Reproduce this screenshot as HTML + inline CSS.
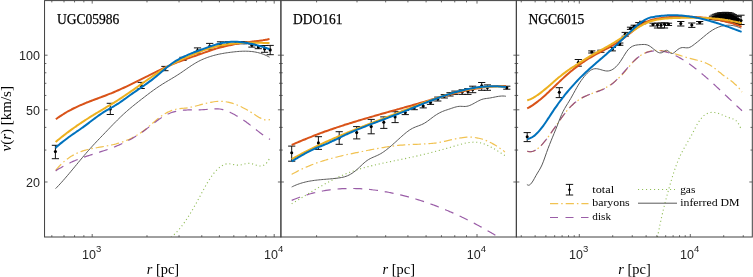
<!DOCTYPE html><html><head><meta charset="utf-8"><style>html,body{margin:0;padding:0;background:#fff;}svg{display:block;will-change:transform;}</style></head><body>
<svg width="753" height="277" viewBox="0 0 753 277">
<rect x="0" y="0" width="753" height="277" fill="#fff"/>
<clipPath id="c0"><rect x="44.55" y="0.60" width="236.35" height="236.40"/></clipPath>
<clipPath id="c1"><rect x="280.90" y="0.60" width="235.45" height="236.40"/></clipPath>
<clipPath id="c2"><rect x="516.35" y="0.60" width="235.95" height="236.40"/></clipPath>
<g clip-path="url(#c0)" fill="none">
<path d="M55.40,145.30V158.70M51.80,145.30H59.00M51.80,158.70H59.00M110.30,103.30V114.50M106.70,103.30H113.90M106.70,114.50H113.90M141.20,82.40V88.50M137.60,82.40H144.80M137.60,88.50H144.80M164.90,66.40V70.70M161.30,66.40H168.50M161.30,70.70H168.50M183.00,57.30V60.40M179.40,57.30H186.60M179.40,60.40H186.60M197.50,47.90V53.20M193.90,47.90H201.10M193.90,53.20H201.10M209.70,43.40V49.20M206.10,43.40H213.30M206.10,49.20H213.30M220.50,41.80V46.70M216.90,41.80H224.10M216.90,46.70H224.10M228.00,41.70V44.50M224.40,41.70H231.60M224.40,44.50H231.60M236.00,41.60V43.80M232.40,41.60H239.60M232.40,43.80H239.60M244.00,41.60V43.80M240.40,41.60H247.60M240.40,43.80H247.60M251.90,44.00V47.10M248.30,44.00H255.50M248.30,47.10H255.50M258.30,45.50V48.70M254.70,45.50H261.90M254.70,48.70H261.90M264.60,45.50V52.30M261.00,45.50H268.20M261.00,52.30H268.20M270.20,45.40V54.70M266.60,45.40H273.80M266.60,54.70H273.80" stroke="#111" stroke-width="1" />
<circle cx="55.40" cy="151.60" r="1.55" fill="#000"/>
<circle cx="110.30" cy="109.00" r="1.55" fill="#000"/>
<circle cx="141.20" cy="85.50" r="1.55" fill="#000"/>
<circle cx="164.90" cy="68.50" r="1.55" fill="#000"/>
<circle cx="183.00" cy="58.90" r="1.55" fill="#000"/>
<circle cx="197.50" cy="50.50" r="1.55" fill="#000"/>
<circle cx="209.70" cy="46.30" r="1.55" fill="#000"/>
<circle cx="220.50" cy="44.20" r="1.55" fill="#000"/>
<circle cx="228.00" cy="43.20" r="1.55" fill="#000"/>
<circle cx="236.00" cy="42.80" r="1.55" fill="#000"/>
<circle cx="244.00" cy="42.60" r="1.55" fill="#000"/>
<circle cx="251.90" cy="45.30" r="1.55" fill="#000"/>
<circle cx="258.30" cy="47.10" r="1.55" fill="#000"/>
<circle cx="264.60" cy="48.90" r="1.55" fill="#000"/>
<circle cx="270.20" cy="49.90" r="1.55" fill="#000"/>
<path d="M55.70,170.29 C56.03,169.90 57.04,168.69 57.70,167.93 C58.37,167.18 59.04,166.45 59.71,165.76 C60.37,165.06 61.04,164.39 61.71,163.75 C62.38,163.11 63.04,162.50 63.71,161.91 C64.38,161.33 65.05,160.77 65.71,160.23 C66.38,159.69 67.05,159.18 67.72,158.69 C68.38,158.20 69.05,157.73 69.72,157.29 C70.39,156.84 71.05,156.42 71.72,156.02 C72.39,155.62 73.06,155.23 73.73,154.87 C74.39,154.51 75.06,154.16 75.73,153.83 C76.40,153.51 77.06,153.20 77.73,152.90 C78.40,152.61 79.07,152.33 79.73,152.07 C80.40,151.81 81.07,151.56 81.74,151.32 C82.40,151.09 83.07,150.86 83.74,150.65 C84.41,150.44 85.07,150.25 85.74,150.06 C86.41,149.87 87.08,149.69 87.74,149.52 C88.41,149.36 89.08,149.20 89.75,149.04 C90.42,148.89 91.08,148.75 91.75,148.61 C92.42,148.47 93.09,148.34 93.75,148.21 C94.42,148.09 95.09,147.97 95.76,147.85 C96.42,147.73 97.09,147.61 97.76,147.50 C98.43,147.39 99.09,147.28 99.76,147.16 C100.43,147.05 101.10,146.94 101.76,146.83 C102.43,146.72 103.10,146.61 103.77,146.50 C104.43,146.38 105.10,146.27 105.77,146.15 C106.44,146.03 107.11,145.91 107.77,145.78 C108.44,145.65 109.11,145.52 109.78,145.38 C110.44,145.24 111.11,145.10 111.78,144.95 C112.45,144.80 113.11,144.65 113.78,144.49 C114.45,144.32 115.12,144.16 115.78,143.98 C116.45,143.80 117.12,143.62 117.79,143.43 C118.45,143.24 119.12,143.04 119.79,142.83 C120.46,142.63 121.12,142.41 121.79,142.19 C122.46,141.96 123.13,141.73 123.80,141.48 C124.46,141.24 125.13,140.98 125.80,140.72 C126.47,140.45 127.13,140.18 127.80,139.89 C128.47,139.60 129.14,139.31 129.80,138.99 C130.47,138.68 131.14,138.36 131.81,138.03 C132.47,137.69 133.14,137.35 133.81,136.99 C134.48,136.62 135.14,136.25 135.81,135.86 C136.48,135.48 137.15,135.07 137.81,134.66 C138.48,134.24 139.15,133.81 139.82,133.36 C140.49,132.92 141.15,132.46 141.82,131.98 C142.49,131.50 143.16,131.01 143.82,130.50 C144.49,129.99 145.16,129.46 145.83,128.93 C146.49,128.39 147.16,127.84 147.83,127.28 C148.50,126.72 149.16,126.16 149.83,125.59 C150.50,125.02 151.17,124.44 151.83,123.87 C152.50,123.30 153.17,122.72 153.84,122.15 C154.50,121.58 155.17,121.02 155.84,120.46 C156.51,119.90 157.18,119.35 157.84,118.81 C158.51,118.28 159.18,117.75 159.85,117.24 C160.51,116.73 161.18,116.24 161.85,115.77 C162.52,115.30 163.18,114.84 163.85,114.41 C164.52,113.99 165.19,113.58 165.85,113.20 C166.52,112.82 167.19,112.46 167.86,112.13 C168.52,111.79 169.19,111.48 169.86,111.20 C170.53,110.91 171.20,110.65 171.86,110.41 C172.53,110.18 173.20,109.96 173.87,109.77 C174.53,109.59 175.20,109.42 175.87,109.28 C176.54,109.14 177.20,109.03 177.87,108.93 C178.54,108.82 179.21,108.75 179.87,108.67 C180.54,108.59 181.21,108.53 181.88,108.47 C182.54,108.40 183.21,108.34 183.88,108.27 C184.55,108.20 185.21,108.13 185.88,108.05 C186.55,107.96 187.22,107.87 187.89,107.76 C188.55,107.65 189.22,107.52 189.89,107.39 C190.56,107.26 191.22,107.12 191.89,106.98 C192.56,106.83 193.23,106.67 193.89,106.51 C194.56,106.35 195.23,106.18 195.90,106.01 C196.56,105.84 197.23,105.66 197.90,105.48 C198.57,105.30 199.23,105.12 199.90,104.94 C200.57,104.76 201.24,104.58 201.90,104.40 C202.57,104.22 203.24,104.04 203.91,103.87 C204.58,103.69 205.24,103.52 205.91,103.36 C206.58,103.19 207.25,103.03 207.91,102.88 C208.58,102.72 209.25,102.58 209.92,102.44 C210.58,102.30 211.25,102.17 211.92,102.06 C212.59,101.94 213.25,101.83 213.92,101.74 C214.59,101.65 215.26,101.56 215.92,101.50 C216.59,101.43 217.26,101.38 217.93,101.34 C218.59,101.31 219.26,101.29 219.93,101.29 C220.60,101.29 221.27,101.31 221.93,101.35 C222.60,101.38 223.27,101.44 223.94,101.51 C224.60,101.58 225.27,101.67 225.94,101.78 C226.61,101.89 227.27,102.01 227.94,102.15 C228.61,102.29 229.28,102.44 229.94,102.62 C230.61,102.79 231.28,102.97 231.95,103.17 C232.61,103.37 233.28,103.59 233.95,103.82 C234.62,104.05 235.28,104.29 235.95,104.55 C236.62,104.80 237.29,105.07 237.96,105.35 C238.62,105.63 239.29,105.93 239.96,106.23 C240.63,106.54 241.29,106.85 241.96,107.18 C242.63,107.51 243.30,107.85 243.96,108.19 C244.63,108.54 245.30,108.90 245.97,109.27 C246.63,109.64 247.30,110.01 247.97,110.40 C248.64,110.78 249.30,111.18 249.97,111.58 C250.64,111.98 251.31,112.39 251.97,112.81 C252.64,113.22 253.31,113.65 253.98,114.08 C254.65,114.51 255.31,114.95 255.98,115.38 C256.65,115.82 257.32,116.26 257.98,116.67 C258.65,117.09 259.32,117.50 259.99,117.86 C260.65,118.23 261.32,118.58 261.99,118.88 C262.66,119.17 263.32,119.44 263.99,119.63 C264.66,119.82 265.33,119.97 265.99,120.04 C266.66,120.11 267.33,120.11 268.00,120.03 C268.66,119.94 269.67,119.59 270.00,119.51" stroke="#EDB120" stroke-width="1.2" stroke-dasharray="8.2 3 1.5 3" stroke-opacity="0.78" />
<path d="M55.70,170.90 C56.03,170.68 57.04,170.01 57.70,169.59 C58.37,169.16 59.04,168.74 59.71,168.34 C60.37,167.93 61.04,167.54 61.71,167.15 C62.38,166.76 63.04,166.39 63.71,166.02 C64.38,165.65 65.05,165.29 65.71,164.94 C66.38,164.59 67.05,164.25 67.72,163.92 C68.38,163.59 69.05,163.26 69.72,162.94 C70.39,162.63 71.05,162.32 71.72,162.02 C72.39,161.71 73.06,161.42 73.73,161.13 C74.39,160.84 75.06,160.56 75.73,160.29 C76.40,160.01 77.06,159.75 77.73,159.48 C78.40,159.22 79.07,158.96 79.73,158.71 C80.40,158.46 81.07,158.21 81.74,157.97 C82.40,157.73 83.07,157.49 83.74,157.26 C84.41,157.03 85.07,156.80 85.74,156.57 C86.41,156.35 87.08,156.12 87.74,155.90 C88.41,155.68 89.08,155.47 89.75,155.25 C90.42,155.03 91.08,154.82 91.75,154.61 C92.42,154.39 93.09,154.18 93.75,153.97 C94.42,153.76 95.09,153.55 95.76,153.34 C96.42,153.13 97.09,152.92 97.76,152.71 C98.43,152.50 99.09,152.29 99.76,152.07 C100.43,151.86 101.10,151.64 101.76,151.43 C102.43,151.21 103.10,150.99 103.77,150.77 C104.43,150.55 105.10,150.32 105.77,150.10 C106.44,149.87 107.11,149.64 107.77,149.40 C108.44,149.17 109.11,148.93 109.78,148.68 C110.44,148.44 111.11,148.19 111.78,147.94 C112.45,147.69 113.11,147.43 113.78,147.17 C114.45,146.91 115.12,146.64 115.78,146.37 C116.45,146.10 117.12,145.82 117.79,145.54 C118.45,145.25 119.12,144.97 119.79,144.67 C120.46,144.38 121.12,144.08 121.79,143.77 C122.46,143.46 123.13,143.15 123.80,142.83 C124.46,142.51 125.13,142.19 125.80,141.85 C126.47,141.52 127.13,141.18 127.80,140.83 C128.47,140.48 129.14,140.13 129.80,139.77 C130.47,139.40 131.14,139.03 131.81,138.66 C132.47,138.28 133.14,137.89 133.81,137.50 C134.48,137.10 135.14,136.70 135.81,136.29 C136.48,135.88 137.15,135.46 137.81,135.03 C138.48,134.60 139.15,134.16 139.82,133.71 C140.49,133.26 141.15,132.81 141.82,132.34 C142.49,131.87 143.16,131.39 143.82,130.91 C144.49,130.42 145.16,129.92 145.83,129.42 C146.49,128.92 147.16,128.41 147.83,127.89 C148.50,127.38 149.16,126.86 149.83,126.34 C150.50,125.82 151.17,125.30 151.83,124.78 C152.50,124.27 153.17,123.75 153.84,123.23 C154.50,122.72 155.17,122.21 155.84,121.71 C156.51,121.21 157.18,120.71 157.84,120.23 C158.51,119.75 159.18,119.27 159.85,118.81 C160.51,118.35 161.18,117.90 161.85,117.47 C162.52,117.04 163.18,116.62 163.85,116.23 C164.52,115.83 165.19,115.45 165.85,115.09 C166.52,114.73 167.19,114.40 167.86,114.08 C168.52,113.77 169.19,113.48 169.86,113.22 C170.53,112.95 171.20,112.70 171.86,112.48 C172.53,112.25 173.20,112.05 173.87,111.86 C174.53,111.67 175.20,111.50 175.87,111.35 C176.54,111.20 177.20,111.06 177.87,110.94 C178.54,110.81 179.21,110.71 179.87,110.61 C180.54,110.52 181.21,110.44 181.88,110.36 C182.54,110.29 183.21,110.23 183.88,110.18 C184.55,110.13 185.21,110.09 185.88,110.06 C186.55,110.02 187.22,110.00 187.89,109.97 C188.55,109.95 189.22,109.94 189.89,109.93 C190.56,109.92 191.22,109.91 191.89,109.90 C192.56,109.90 193.23,109.90 193.89,109.89 C194.56,109.89 195.23,109.89 195.90,109.88 C196.56,109.88 197.23,109.87 197.90,109.86 C198.57,109.86 199.23,109.85 199.90,109.83 C200.57,109.81 201.24,109.79 201.90,109.76 C202.57,109.73 203.24,109.70 203.91,109.65 C204.58,109.61 205.24,109.56 205.91,109.50 C206.58,109.44 207.25,109.38 207.91,109.31 C208.58,109.25 209.25,109.18 209.92,109.13 C210.58,109.07 211.25,109.01 211.92,108.96 C212.59,108.91 213.25,108.87 213.92,108.84 C214.59,108.81 215.26,108.79 215.92,108.79 C216.59,108.79 217.26,108.81 217.93,108.85 C218.59,108.88 219.26,108.94 219.93,109.03 C220.60,109.11 221.27,109.22 221.93,109.36 C222.60,109.50 223.27,109.67 223.94,109.86 C224.60,110.06 225.27,110.28 225.94,110.53 C226.61,110.77 227.27,111.04 227.94,111.33 C228.61,111.61 229.28,111.92 229.94,112.24 C230.61,112.55 231.28,112.89 231.95,113.23 C232.61,113.57 233.28,113.93 233.95,114.29 C234.62,114.65 235.28,115.02 235.95,115.40 C236.62,115.77 237.29,116.16 237.96,116.56 C238.62,116.95 239.29,117.36 239.96,117.78 C240.63,118.20 241.29,118.62 241.96,119.06 C242.63,119.50 243.30,119.96 243.96,120.42 C244.63,120.89 245.30,121.36 245.97,121.85 C246.63,122.34 247.30,122.83 247.97,123.34 C248.64,123.84 249.30,124.35 249.97,124.87 C250.64,125.38 251.31,125.91 251.97,126.43 C252.64,126.95 253.31,127.48 253.98,128.01 C254.65,128.53 255.31,129.06 255.98,129.58 C256.65,130.10 257.32,130.63 257.98,131.14 C258.65,131.66 259.32,132.17 259.99,132.68 C260.65,133.18 261.32,133.68 261.99,134.16 C262.66,134.65 263.32,135.13 263.99,135.60 C264.66,136.06 265.33,136.52 265.99,136.95 C266.66,137.39 267.33,137.82 268.00,138.23 C268.66,138.63 269.67,139.20 270.00,139.40" stroke="#7E2F8E" stroke-width="1.2" stroke-dasharray="9 6.8" stroke-opacity="0.78" />
<path d="M171.00,237.20 C171.34,236.93 172.34,236.17 173.01,235.60 C173.68,235.03 174.35,234.41 175.02,233.77 C175.69,233.12 176.36,232.43 177.03,231.71 C177.70,230.99 178.37,230.23 179.04,229.45 C179.71,228.66 180.38,227.84 181.05,226.98 C181.72,226.13 182.39,225.24 183.06,224.33 C183.73,223.42 184.40,222.48 185.07,221.51 C185.74,220.54 186.41,219.54 187.08,218.52 C187.75,217.50 188.42,216.45 189.09,215.38 C189.76,214.31 190.43,213.21 191.10,212.10 C191.77,210.99 192.44,209.85 193.11,208.69 C193.78,207.54 194.45,206.36 195.12,205.17 C195.79,203.98 196.46,202.77 197.13,201.55 C197.80,200.32 198.47,199.08 199.14,197.83 C199.81,196.59 200.48,195.32 201.15,194.07 C201.82,192.82 202.49,191.56 203.16,190.32 C203.83,189.08 204.50,187.85 205.17,186.66 C205.84,185.46 206.51,184.28 207.18,183.14 C207.85,182.01 208.52,180.90 209.19,179.84 C209.86,178.79 210.53,177.77 211.20,176.81 C211.87,175.84 212.54,174.92 213.21,174.05 C213.88,173.18 214.55,172.36 215.22,171.59 C215.89,170.82 216.56,170.10 217.23,169.44 C217.90,168.77 218.57,168.16 219.24,167.61 C219.91,167.05 220.59,166.55 221.26,166.11 C221.93,165.67 222.60,165.29 223.27,164.97 C223.94,164.66 224.61,164.40 225.28,164.20 C225.95,164.01 226.62,163.88 227.29,163.81 C227.96,163.75 228.63,163.76 229.30,163.80 C229.97,163.85 230.64,163.96 231.31,164.07 C231.98,164.18 232.65,164.34 233.32,164.47 C233.99,164.61 234.66,164.77 235.33,164.88 C236.00,164.99 236.67,165.10 237.34,165.14 C238.01,165.19 238.68,165.19 239.35,165.13 C240.02,165.08 240.69,164.95 241.36,164.81 C242.03,164.67 242.70,164.48 243.37,164.31 C244.04,164.14 244.71,163.94 245.38,163.79 C246.05,163.65 246.72,163.49 247.39,163.42 C248.06,163.34 248.73,163.30 249.40,163.34 C250.07,163.38 250.74,163.51 251.41,163.66 C252.08,163.81 252.75,164.04 253.42,164.25 C254.09,164.46 254.76,164.72 255.43,164.94 C256.10,165.16 256.77,165.40 257.44,165.57 C258.11,165.74 258.78,165.90 259.45,165.96 C260.12,166.02 260.79,166.05 261.46,165.95 C262.13,165.85 262.80,165.68 263.47,165.37 C264.14,165.05 264.81,164.64 265.48,164.04 C266.15,163.45 266.82,162.73 267.49,161.81 C268.16,160.89 269.16,159.05 269.50,158.50" stroke="#77AC30" stroke-width="1.1" stroke-dasharray="1.1 2.75" stroke-opacity="0.8" />
<path d="M55.60,188.60 C55.85,188.35 56.60,187.59 57.11,187.07 C57.61,186.55 58.11,186.02 58.61,185.49 C59.11,184.95 59.62,184.41 60.12,183.87 C60.62,183.32 61.12,182.77 61.63,182.22 C62.13,181.66 62.63,181.10 63.13,180.53 C63.63,179.96 64.14,179.39 64.64,178.81 C65.14,178.24 65.64,177.66 66.14,177.07 C66.65,176.49 67.15,175.90 67.65,175.31 C68.15,174.72 68.65,174.13 69.16,173.53 C69.66,172.93 70.16,172.33 70.66,171.73 C71.17,171.13 71.67,170.53 72.17,169.92 C72.67,169.32 73.17,168.71 73.68,168.10 C74.18,167.50 74.68,166.89 75.18,166.28 C75.68,165.67 76.19,165.06 76.69,164.45 C77.19,163.85 77.69,163.24 78.20,162.63 C78.70,162.02 79.20,161.42 79.70,160.81 C80.20,160.20 80.71,159.60 81.21,159.00 C81.71,158.40 82.21,157.79 82.71,157.20 C83.22,156.60 83.72,156.00 84.22,155.41 C84.72,154.82 85.22,154.23 85.73,153.64 C86.23,153.05 86.73,152.47 87.23,151.89 C87.74,151.31 88.24,150.74 88.74,150.17 C89.24,149.60 89.74,149.03 90.25,148.47 C90.75,147.91 91.25,147.36 91.75,146.81 C92.25,146.26 92.76,145.71 93.26,145.17 C93.76,144.62 94.26,144.08 94.76,143.55 C95.27,143.01 95.77,142.48 96.27,141.95 C96.77,141.41 97.28,140.89 97.78,140.36 C98.28,139.83 98.78,139.31 99.28,138.78 C99.79,138.26 100.29,137.73 100.79,137.21 C101.29,136.69 101.79,136.17 102.30,135.64 C102.80,135.12 103.30,134.60 103.80,134.08 C104.30,133.55 104.81,133.03 105.31,132.50 C105.81,131.98 106.31,131.45 106.82,130.93 C107.32,130.41 107.82,129.88 108.32,129.36 C108.82,128.83 109.33,128.31 109.83,127.79 C110.33,127.27 110.83,126.74 111.33,126.23 C111.84,125.71 112.34,125.19 112.84,124.67 C113.34,124.16 113.85,123.64 114.35,123.13 C114.85,122.62 115.35,122.11 115.85,121.61 C116.36,121.10 116.86,120.60 117.36,120.10 C117.86,119.60 118.36,119.10 118.87,118.61 C119.37,118.12 119.87,117.63 120.37,117.15 C120.87,116.67 121.38,116.19 121.88,115.71 C122.38,115.24 122.88,114.77 123.39,114.31 C123.89,113.84 124.39,113.38 124.89,112.93 C125.39,112.48 125.90,112.03 126.40,111.59 C126.90,111.14 127.40,110.70 127.90,110.27 C128.41,109.83 128.91,109.40 129.41,108.98 C129.91,108.55 130.41,108.13 130.92,107.71 C131.42,107.29 131.92,106.88 132.42,106.46 C132.93,106.05 133.43,105.64 133.93,105.24 C134.43,104.83 134.93,104.43 135.44,104.02 C135.94,103.62 136.44,103.22 136.94,102.83 C137.44,102.43 137.95,102.03 138.45,101.64 C138.95,101.24 139.45,100.85 139.95,100.46 C140.46,100.07 140.96,99.68 141.46,99.29 C141.96,98.90 142.47,98.51 142.97,98.12 C143.47,97.73 143.97,97.34 144.47,96.96 C144.98,96.57 145.48,96.18 145.98,95.80 C146.48,95.41 146.98,95.03 147.49,94.65 C147.99,94.27 148.49,93.89 148.99,93.51 C149.50,93.13 150.00,92.76 150.50,92.39 C151.00,92.01 151.50,91.64 152.01,91.28 C152.51,90.91 153.01,90.54 153.51,90.18 C154.01,89.82 154.52,89.46 155.02,89.11 C155.52,88.75 156.02,88.40 156.52,88.06 C157.03,87.71 157.53,87.37 158.03,87.03 C158.53,86.69 159.04,86.35 159.54,86.02 C160.04,85.69 160.54,85.37 161.04,85.05 C161.55,84.73 162.05,84.41 162.55,84.09 C163.05,83.78 163.55,83.47 164.06,83.16 C164.56,82.85 165.06,82.55 165.56,82.25 C166.06,81.94 166.57,81.64 167.07,81.34 C167.57,81.04 168.07,80.74 168.58,80.44 C169.08,80.14 169.58,79.85 170.08,79.55 C170.58,79.25 171.09,78.95 171.59,78.65 C172.09,78.35 172.59,78.05 173.09,77.75 C173.60,77.45 174.10,77.14 174.60,76.83 C175.10,76.53 175.60,76.22 176.11,75.91 C176.61,75.59 177.11,75.28 177.61,74.96 C178.12,74.64 178.62,74.32 179.12,73.99 C179.62,73.66 180.12,73.33 180.63,72.99 C181.13,72.65 181.63,72.31 182.13,71.97 C182.63,71.62 183.14,71.27 183.64,70.93 C184.14,70.58 184.64,70.23 185.15,69.88 C185.65,69.53 186.15,69.18 186.65,68.83 C187.15,68.48 187.66,68.13 188.16,67.78 C188.66,67.44 189.16,67.10 189.66,66.76 C190.17,66.42 190.67,66.08 191.17,65.75 C191.67,65.42 192.17,65.09 192.68,64.77 C193.18,64.45 193.68,64.14 194.18,63.83 C194.69,63.52 195.19,63.22 195.69,62.93 C196.19,62.63 196.69,62.35 197.20,62.07 C197.70,61.80 198.20,61.53 198.70,61.27 C199.20,61.01 199.71,60.75 200.21,60.51 C200.71,60.26 201.21,60.02 201.71,59.79 C202.22,59.56 202.72,59.34 203.22,59.12 C203.72,58.90 204.23,58.69 204.73,58.49 C205.23,58.29 205.73,58.09 206.23,57.90 C206.74,57.71 207.24,57.52 207.74,57.34 C208.24,57.16 208.74,56.99 209.25,56.82 C209.75,56.65 210.25,56.49 210.75,56.33 C211.25,56.18 211.76,56.02 212.26,55.88 C212.76,55.73 213.26,55.59 213.77,55.45 C214.27,55.32 214.77,55.18 215.27,55.06 C215.77,54.93 216.28,54.81 216.78,54.69 C217.28,54.57 217.78,54.45 218.28,54.34 C218.79,54.23 219.29,54.13 219.79,54.02 C220.29,53.92 220.80,53.82 221.30,53.73 C221.80,53.63 222.30,53.54 222.80,53.45 C223.31,53.36 223.81,53.28 224.31,53.19 C224.81,53.11 225.31,53.03 225.82,52.95 C226.32,52.87 226.82,52.80 227.32,52.73 C227.82,52.65 228.33,52.58 228.83,52.52 C229.33,52.45 229.83,52.38 230.34,52.32 C230.84,52.25 231.34,52.19 231.84,52.13 C232.34,52.07 232.85,52.01 233.35,51.95 C233.85,51.90 234.35,51.84 234.85,51.79 C235.36,51.74 235.86,51.69 236.36,51.64 C236.86,51.59 237.36,51.55 237.87,51.50 C238.37,51.46 238.87,51.42 239.37,51.39 C239.88,51.36 240.38,51.33 240.88,51.30 C241.38,51.27 241.88,51.25 242.39,51.23 C242.89,51.21 243.39,51.20 243.89,51.19 C244.39,51.18 244.90,51.18 245.40,51.18 C245.90,51.19 246.40,51.19 246.90,51.21 C247.41,51.22 247.91,51.24 248.41,51.26 C248.91,51.29 249.42,51.32 249.92,51.36 C250.42,51.40 250.92,51.44 251.42,51.50 C251.93,51.55 252.43,51.61 252.93,51.67 C253.43,51.74 253.93,51.82 254.44,51.90 C254.94,51.98 255.44,52.07 255.94,52.17 C256.45,52.27 256.95,52.38 257.45,52.49 C257.95,52.61 258.45,52.73 258.96,52.87 C259.46,53.00 259.96,53.15 260.46,53.30 C260.96,53.45 261.47,53.61 261.97,53.79 C262.47,53.96 262.97,54.14 263.47,54.34 C263.98,54.53 264.48,54.74 264.98,54.95 C265.48,55.17 265.99,55.39 266.49,55.63 C266.99,55.87 267.49,56.12 267.99,56.38 C268.50,56.64 269.25,57.06 269.50,57.20" stroke="#595959" stroke-width="1" />
<path d="M55.80,119.19 C56.14,118.95 57.14,118.22 57.82,117.74 C58.49,117.27 59.16,116.81 59.83,116.36 C60.50,115.91 61.18,115.47 61.85,115.04 C62.52,114.61 63.19,114.19 63.86,113.78 C64.54,113.37 65.21,112.97 65.88,112.58 C66.55,112.18 67.22,111.80 67.90,111.42 C68.57,111.05 69.24,110.68 69.91,110.32 C70.58,109.96 71.26,109.61 71.93,109.26 C72.60,108.92 73.27,108.58 73.94,108.25 C74.62,107.92 75.29,107.60 75.96,107.28 C76.63,106.96 77.30,106.65 77.98,106.34 C78.65,106.03 79.32,105.73 79.99,105.43 C80.66,105.14 81.34,104.85 82.01,104.56 C82.68,104.27 83.35,103.99 84.02,103.71 C84.70,103.43 85.37,103.16 86.04,102.89 C86.71,102.61 87.38,102.35 88.06,102.08 C88.73,101.81 89.40,101.55 90.07,101.29 C90.74,101.03 91.42,100.77 92.09,100.52 C92.76,100.26 93.43,100.01 94.10,99.75 C94.78,99.50 95.45,99.25 96.12,99.00 C96.79,98.74 97.46,98.49 98.14,98.24 C98.81,97.99 99.48,97.74 100.15,97.49 C100.82,97.24 101.50,96.99 102.17,96.73 C102.84,96.48 103.51,96.23 104.18,95.97 C104.86,95.72 105.53,95.46 106.20,95.20 C106.87,94.94 107.54,94.68 108.22,94.42 C108.89,94.16 109.56,93.89 110.23,93.62 C110.91,93.35 111.58,93.08 112.25,92.80 C112.92,92.53 113.59,92.25 114.27,91.96 C114.94,91.68 115.61,91.39 116.28,91.10 C116.95,90.81 117.63,90.52 118.30,90.22 C118.97,89.93 119.64,89.63 120.31,89.33 C120.99,89.03 121.66,88.72 122.33,88.41 C123.00,88.11 123.67,87.80 124.35,87.48 C125.02,87.17 125.69,86.86 126.36,86.54 C127.03,86.22 127.71,85.90 128.38,85.58 C129.05,85.26 129.72,84.94 130.39,84.62 C131.07,84.29 131.74,83.97 132.41,83.64 C133.08,83.31 133.75,82.98 134.43,82.65 C135.10,82.32 135.77,81.99 136.44,81.66 C137.11,81.33 137.79,80.99 138.46,80.66 C139.13,80.33 139.80,79.99 140.47,79.66 C141.15,79.32 141.82,78.99 142.49,78.65 C143.16,78.31 143.83,77.98 144.51,77.64 C145.18,77.31 145.85,76.97 146.52,76.63 C147.19,76.30 147.87,75.96 148.54,75.62 C149.21,75.29 149.88,74.95 150.55,74.62 C151.23,74.28 151.90,73.95 152.57,73.62 C153.24,73.28 153.91,72.95 154.59,72.62 C155.26,72.29 155.93,71.96 156.60,71.63 C157.27,71.30 157.95,70.97 158.62,70.65 C159.29,70.32 159.96,70.00 160.63,69.68 C161.31,69.35 161.98,69.03 162.65,68.72 C163.32,68.40 163.99,68.09 164.67,67.77 C165.34,67.46 166.01,67.15 166.68,66.85 C167.35,66.54 168.03,66.24 168.70,65.94 C169.37,65.64 170.04,65.34 170.71,65.05 C171.39,64.76 172.06,64.47 172.73,64.18 C173.40,63.90 174.07,63.61 174.75,63.34 C175.42,63.06 176.09,62.79 176.76,62.52 C177.43,62.25 178.11,61.99 178.78,61.73 C179.45,61.47 180.12,61.21 180.79,60.96 C181.47,60.71 182.14,60.46 182.81,60.21 C183.48,59.96 184.15,59.72 184.83,59.48 C185.50,59.24 186.17,59.00 186.84,58.76 C187.51,58.53 188.19,58.29 188.86,58.06 C189.53,57.82 190.20,57.59 190.87,57.36 C191.55,57.13 192.22,56.89 192.89,56.66 C193.56,56.43 194.23,56.20 194.91,55.97 C195.58,55.73 196.25,55.50 196.92,55.27 C197.59,55.03 198.27,54.80 198.94,54.56 C199.61,54.33 200.28,54.09 200.95,53.85 C201.63,53.62 202.30,53.38 202.97,53.14 C203.64,52.90 204.31,52.66 204.99,52.42 C205.66,52.19 206.33,51.95 207.00,51.71 C207.67,51.48 208.35,51.24 209.02,51.01 C209.69,50.78 210.36,50.55 211.03,50.33 C211.71,50.10 212.38,49.88 213.05,49.66 C213.72,49.44 214.39,49.23 215.07,49.02 C215.74,48.81 216.41,48.61 217.08,48.41 C217.76,48.21 218.43,48.02 219.10,47.83 C219.77,47.64 220.44,47.46 221.12,47.28 C221.79,47.10 222.46,46.92 223.13,46.75 C223.80,46.58 224.48,46.41 225.15,46.25 C225.82,46.09 226.49,45.93 227.16,45.77 C227.84,45.62 228.51,45.47 229.18,45.32 C229.85,45.18 230.52,45.03 231.20,44.90 C231.87,44.76 232.54,44.62 233.21,44.49 C233.88,44.36 234.56,44.23 235.23,44.11 C235.90,43.98 236.57,43.86 237.24,43.74 C237.92,43.63 238.59,43.51 239.26,43.40 C239.93,43.29 240.60,43.18 241.28,43.08 C241.95,42.97 242.62,42.87 243.29,42.77 C243.96,42.68 244.64,42.58 245.31,42.49 C245.98,42.39 246.65,42.30 247.32,42.22 C248.00,42.13 248.67,42.04 249.34,41.96 C250.01,41.88 250.68,41.80 251.36,41.71 C252.03,41.63 252.70,41.55 253.37,41.47 C254.04,41.39 254.72,41.31 255.39,41.23 C256.06,41.15 256.73,41.07 257.40,40.98 C258.08,40.90 258.75,40.81 259.42,40.72 C260.09,40.63 260.76,40.54 261.44,40.44 C262.11,40.34 262.78,40.24 263.45,40.13 C264.12,40.02 264.80,39.91 265.47,39.79 C266.14,39.68 266.81,39.55 267.48,39.42 C268.16,39.29 269.16,39.08 269.50,39.01" stroke="#D95319" stroke-width="2" stroke-linejoin="round" />
<path d="M55.60,142.00 C55.94,141.72 56.95,140.87 57.62,140.32 C58.29,139.76 58.96,139.21 59.64,138.67 C60.31,138.13 60.98,137.59 61.65,137.06 C62.33,136.52 63.00,136.00 63.67,135.47 C64.34,134.95 65.02,134.43 65.69,133.92 C66.36,133.40 67.03,132.90 67.71,132.39 C68.38,131.89 69.05,131.39 69.73,130.89 C70.40,130.40 71.07,129.91 71.74,129.42 C72.42,128.94 73.09,128.46 73.76,127.98 C74.43,127.50 75.11,127.03 75.78,126.56 C76.45,126.09 77.12,125.62 77.80,125.16 C78.47,124.70 79.14,124.24 79.82,123.78 C80.49,123.33 81.16,122.88 81.83,122.43 C82.51,121.98 83.18,121.54 83.85,121.10 C84.52,120.66 85.20,120.22 85.87,119.78 C86.54,119.35 87.21,118.92 87.89,118.49 C88.56,118.06 89.23,117.63 89.90,117.21 C90.58,116.79 91.25,116.37 91.92,115.95 C92.60,115.53 93.27,115.12 93.94,114.70 C94.61,114.29 95.29,113.88 95.96,113.47 C96.63,113.06 97.30,112.66 97.98,112.25 C98.65,111.85 99.32,111.44 99.99,111.04 C100.67,110.64 101.34,110.24 102.01,109.84 C102.68,109.44 103.36,109.04 104.03,108.64 C104.70,108.24 105.38,107.84 106.05,107.44 C106.72,107.03 107.39,106.63 108.07,106.23 C108.74,105.83 109.41,105.42 110.08,105.02 C110.76,104.61 111.43,104.20 112.10,103.79 C112.77,103.38 113.45,102.97 114.12,102.55 C114.79,102.13 115.47,101.71 116.14,101.29 C116.81,100.87 117.48,100.44 118.16,100.01 C118.83,99.58 119.50,99.14 120.17,98.71 C120.85,98.27 121.52,97.82 122.19,97.38 C122.86,96.93 123.54,96.49 124.21,96.03 C124.88,95.58 125.55,95.13 126.23,94.67 C126.90,94.21 127.57,93.75 128.25,93.29 C128.92,92.83 129.59,92.36 130.26,91.90 C130.94,91.43 131.61,90.97 132.28,90.50 C132.95,90.03 133.63,89.56 134.30,89.08 C134.97,88.61 135.64,88.14 136.32,87.67 C136.99,87.19 137.66,86.72 138.33,86.24 C139.01,85.77 139.68,85.29 140.35,84.82 C141.03,84.34 141.70,83.87 142.37,83.39 C143.04,82.92 143.72,82.44 144.39,81.97 C145.06,81.49 145.73,81.02 146.41,80.55 C147.08,80.07 147.75,79.60 148.42,79.13 C149.10,78.66 149.77,78.19 150.44,77.73 C151.12,77.26 151.79,76.79 152.46,76.33 C153.13,75.87 153.81,75.41 154.48,74.95 C155.15,74.49 155.82,74.04 156.50,73.59 C157.17,73.14 157.84,72.69 158.51,72.24 C159.19,71.80 159.86,71.36 160.53,70.93 C161.20,70.49 161.88,70.06 162.55,69.64 C163.22,69.22 163.90,68.80 164.57,68.39 C165.24,67.98 165.91,67.57 166.59,67.17 C167.26,66.77 167.93,66.38 168.60,66.00 C169.28,65.61 169.95,65.24 170.62,64.87 C171.29,64.50 171.97,64.14 172.64,63.78 C173.31,63.43 173.98,63.08 174.66,62.74 C175.33,62.40 176.00,62.07 176.68,61.74 C177.35,61.41 178.02,61.09 178.69,60.77 C179.37,60.45 180.04,60.14 180.71,59.83 C181.38,59.52 182.06,59.22 182.73,58.92 C183.40,58.62 184.07,58.32 184.75,58.03 C185.42,57.74 186.09,57.45 186.77,57.16 C187.44,56.88 188.11,56.59 188.78,56.31 C189.46,56.03 190.13,55.75 190.80,55.47 C191.47,55.20 192.15,54.92 192.82,54.65 C193.49,54.37 194.16,54.10 194.84,53.82 C195.51,53.55 196.18,53.28 196.85,53.01 C197.53,52.74 198.20,52.47 198.87,52.20 C199.55,51.94 200.22,51.67 200.89,51.41 C201.56,51.15 202.24,50.89 202.91,50.64 C203.58,50.39 204.25,50.14 204.93,49.90 C205.60,49.66 206.27,49.42 206.94,49.19 C207.62,48.96 208.29,48.73 208.96,48.51 C209.63,48.30 210.31,48.08 210.98,47.88 C211.65,47.68 212.33,47.48 213.00,47.30 C213.67,47.11 214.34,46.93 215.02,46.75 C215.69,46.58 216.36,46.41 217.03,46.25 C217.71,46.09 218.38,45.94 219.05,45.80 C219.72,45.65 220.40,45.51 221.07,45.38 C221.74,45.24 222.42,45.11 223.09,44.99 C223.76,44.87 224.43,44.76 225.11,44.65 C225.78,44.54 226.45,44.43 227.12,44.33 C227.80,44.24 228.47,44.14 229.14,44.06 C229.81,43.97 230.49,43.89 231.16,43.81 C231.83,43.73 232.50,43.66 233.18,43.59 C233.85,43.52 234.52,43.46 235.20,43.40 C235.87,43.35 236.54,43.29 237.21,43.24 C237.89,43.19 238.56,43.15 239.23,43.11 C239.90,43.07 240.58,43.03 241.25,42.99 C241.92,42.96 242.59,42.93 243.27,42.91 C243.94,42.88 244.61,42.86 245.28,42.84 C245.96,42.82 246.63,42.80 247.30,42.79 C247.98,42.78 248.65,42.77 249.32,42.76 C249.99,42.75 250.67,42.75 251.34,42.74 C252.01,42.74 252.68,42.74 253.36,42.75 C254.03,42.75 254.70,42.75 255.37,42.76 C256.05,42.77 256.72,42.78 257.39,42.79 C258.07,42.80 258.74,42.81 259.41,42.82 C260.08,42.84 260.76,42.85 261.43,42.87 C262.10,42.89 262.77,42.90 263.45,42.92 C264.12,42.94 264.79,42.96 265.46,42.98 C266.14,43.00 266.81,43.02 267.48,43.05 C268.15,43.07 269.16,43.10 269.50,43.11" stroke="#EDB120" stroke-width="2" stroke-linejoin="round" />
<path d="M55.60,147.90 C55.94,147.59 56.95,146.65 57.62,146.05 C58.29,145.45 58.96,144.87 59.64,144.29 C60.31,143.72 60.98,143.16 61.65,142.61 C62.33,142.07 63.00,141.53 63.67,141.00 C64.34,140.48 65.02,139.96 65.69,139.45 C66.36,138.94 67.03,138.44 67.71,137.95 C68.38,137.46 69.05,136.97 69.73,136.49 C70.40,136.01 71.07,135.53 71.74,135.06 C72.42,134.59 73.09,134.12 73.76,133.65 C74.43,133.18 75.11,132.72 75.78,132.25 C76.45,131.79 77.12,131.32 77.80,130.86 C78.47,130.39 79.14,129.93 79.82,129.46 C80.49,128.99 81.16,128.51 81.83,128.04 C82.51,127.56 83.18,127.08 83.85,126.59 C84.52,126.10 85.20,125.61 85.87,125.11 C86.54,124.61 87.21,124.11 87.89,123.60 C88.56,123.09 89.23,122.58 89.90,122.07 C90.58,121.56 91.25,121.05 91.92,120.54 C92.60,120.03 93.27,119.52 93.94,119.01 C94.61,118.51 95.29,118.00 95.96,117.51 C96.63,117.01 97.30,116.52 97.98,116.04 C98.65,115.55 99.32,115.08 99.99,114.61 C100.67,114.15 101.34,113.69 102.01,113.24 C102.68,112.80 103.36,112.37 104.03,111.95 C104.70,111.53 105.38,111.12 106.05,110.72 C106.72,110.32 107.39,109.93 108.07,109.54 C108.74,109.15 109.41,108.77 110.08,108.39 C110.76,108.01 111.43,107.63 112.10,107.24 C112.77,106.85 113.45,106.47 114.12,106.07 C114.79,105.67 115.47,105.27 116.14,104.86 C116.81,104.45 117.48,104.02 118.16,103.59 C118.83,103.15 119.50,102.70 120.17,102.24 C120.85,101.78 121.52,101.31 122.19,100.84 C122.86,100.37 123.54,99.88 124.21,99.40 C124.88,98.92 125.55,98.43 126.23,97.94 C126.90,97.45 127.57,96.96 128.25,96.47 C128.92,95.99 129.59,95.50 130.26,95.02 C130.94,94.54 131.61,94.07 132.28,93.60 C132.95,93.13 133.63,92.67 134.30,92.20 C134.97,91.74 135.64,91.28 136.32,90.82 C136.99,90.36 137.66,89.90 138.33,89.44 C139.01,88.98 139.68,88.53 140.35,88.07 C141.03,87.61 141.70,87.15 142.37,86.68 C143.04,86.22 143.72,85.75 144.39,85.28 C145.06,84.81 145.73,84.34 146.41,83.86 C147.08,83.38 147.75,82.90 148.42,82.41 C149.10,81.92 149.77,81.42 150.44,80.91 C151.12,80.41 151.79,79.89 152.46,79.37 C153.13,78.85 153.81,78.32 154.48,77.78 C155.15,77.23 155.82,76.68 156.50,76.12 C157.17,75.56 157.84,74.98 158.51,74.41 C159.19,73.84 159.86,73.25 160.53,72.68 C161.20,72.10 161.88,71.51 162.55,70.94 C163.22,70.36 163.90,69.79 164.57,69.22 C165.24,68.66 165.91,68.10 166.59,67.55 C167.26,67.01 167.93,66.47 168.60,65.95 C169.28,65.43 169.95,64.92 170.62,64.44 C171.29,63.95 171.97,63.48 172.64,63.02 C173.31,62.57 173.98,62.13 174.66,61.70 C175.33,61.28 176.00,60.86 176.68,60.46 C177.35,60.07 178.02,59.68 178.69,59.31 C179.37,58.93 180.04,58.57 180.71,58.22 C181.38,57.87 182.06,57.53 182.73,57.19 C183.40,56.86 184.07,56.54 184.75,56.23 C185.42,55.92 186.09,55.61 186.77,55.32 C187.44,55.02 188.11,54.73 188.78,54.45 C189.46,54.16 190.13,53.89 190.80,53.62 C191.47,53.35 192.15,53.08 192.82,52.82 C193.49,52.56 194.16,52.30 194.84,52.05 C195.51,51.79 196.18,51.54 196.85,51.29 C197.53,51.04 198.20,50.79 198.87,50.55 C199.55,50.30 200.22,50.05 200.89,49.81 C201.56,49.56 202.24,49.31 202.91,49.07 C203.58,48.82 204.25,48.57 204.93,48.33 C205.60,48.08 206.27,47.84 206.94,47.60 C207.62,47.36 208.29,47.12 208.96,46.88 C209.63,46.64 210.31,46.41 210.98,46.18 C211.65,45.96 212.33,45.73 213.00,45.51 C213.67,45.30 214.34,45.09 215.02,44.88 C215.69,44.68 216.36,44.48 217.03,44.29 C217.71,44.10 218.38,43.92 219.05,43.74 C219.72,43.57 220.40,43.41 221.07,43.25 C221.74,43.10 222.42,42.96 223.09,42.83 C223.76,42.70 224.43,42.58 225.11,42.47 C225.78,42.36 226.45,42.27 227.12,42.19 C227.80,42.10 228.47,42.03 229.14,41.98 C229.81,41.92 230.49,41.88 231.16,41.84 C231.83,41.81 232.50,41.79 233.18,41.78 C233.85,41.77 234.52,41.77 235.20,41.78 C235.87,41.80 236.54,41.82 237.21,41.85 C237.89,41.88 238.56,41.93 239.23,41.98 C239.90,42.03 240.58,42.09 241.25,42.17 C241.92,42.24 242.59,42.32 243.27,42.41 C243.94,42.49 244.61,42.59 245.28,42.70 C245.96,42.80 246.63,42.92 247.30,43.04 C247.98,43.16 248.65,43.29 249.32,43.43 C249.99,43.56 250.67,43.70 251.34,43.85 C252.01,44.00 252.68,44.16 253.36,44.32 C254.03,44.48 254.70,44.65 255.37,44.83 C256.05,45.00 256.72,45.18 257.39,45.36 C258.07,45.55 258.74,45.74 259.41,45.93 C260.08,46.12 260.76,46.32 261.43,46.52 C262.10,46.72 262.77,46.93 263.45,47.14 C264.12,47.35 264.79,47.56 265.46,47.78 C266.14,47.99 266.81,48.21 267.48,48.43 C268.15,48.65 269.16,48.99 269.50,49.10" stroke="#0072BD" stroke-width="2" stroke-linejoin="round" />
</g>
<g clip-path="url(#c1)" fill="none">
<path d="M291.70,146.10V161.20M288.10,146.10H295.30M288.10,161.20H295.30M318.40,136.70V149.40M314.80,136.70H322.00M314.80,149.40H322.00M339.20,131.70V144.30M335.60,131.70H342.80M335.60,144.30H342.80M356.70,126.60V138.90M353.10,126.60H360.30M353.10,138.90H360.30M371.20,119.40V133.80M367.60,119.40H374.80M367.60,133.80H374.80M383.80,116.90V128.40M380.20,116.90H387.40M380.20,128.40H387.40M395.10,111.70V122.60M391.50,111.70H398.70M391.50,122.60H398.70M405.30,110.40V114.60M401.70,110.40H408.90M401.70,114.60H408.90M414.20,105.70V109.70M410.60,105.70H417.80M410.60,109.70H417.80M423.20,102.70V107.90M419.60,102.70H426.80M419.60,107.90H426.80M430.50,100.80V104.40M426.90,100.80H434.10M426.90,104.40H434.10M437.80,97.10V101.00M434.20,97.10H441.40M434.20,101.00H441.40M444.30,94.60V98.00M440.70,94.60H447.90M440.70,98.00H447.90M450.00,92.70V96.00M446.40,92.70H453.60M446.40,96.00H453.60M454.90,91.10V94.40M451.30,91.10H458.50M451.30,94.40H458.50M462.20,89.80V94.40M458.60,89.80H465.80M458.60,94.40H465.80M467.90,88.50V94.40M464.30,88.50H471.50M464.30,94.40H471.50M472.70,86.20V92.70M469.10,86.20H476.30M469.10,92.70H476.30M481.70,82.50V90.30M478.10,82.50H485.30M478.10,90.30H485.30M487.40,84.90V90.30M483.80,84.90H491.00M483.80,90.30H491.00M506.80,86.20V89.20M503.20,86.20H510.40M503.20,89.20H510.40" stroke="#111" stroke-width="1" />
<circle cx="291.70" cy="152.80" r="1.55" fill="#000"/>
<circle cx="318.40" cy="142.90" r="1.55" fill="#000"/>
<circle cx="339.20" cy="138.00" r="1.55" fill="#000"/>
<circle cx="356.70" cy="132.60" r="1.55" fill="#000"/>
<circle cx="371.20" cy="126.60" r="1.55" fill="#000"/>
<circle cx="383.80" cy="122.30" r="1.55" fill="#000"/>
<circle cx="395.10" cy="117.00" r="1.55" fill="#000"/>
<circle cx="405.30" cy="112.50" r="1.55" fill="#000"/>
<circle cx="414.20" cy="107.70" r="1.55" fill="#000"/>
<circle cx="423.20" cy="106.00" r="1.55" fill="#000"/>
<circle cx="430.50" cy="102.60" r="1.55" fill="#000"/>
<circle cx="437.80" cy="99.00" r="1.55" fill="#000"/>
<circle cx="444.30" cy="96.30" r="1.55" fill="#000"/>
<circle cx="450.00" cy="94.30" r="1.55" fill="#000"/>
<circle cx="454.90" cy="92.80" r="1.55" fill="#000"/>
<circle cx="462.20" cy="92.00" r="1.55" fill="#000"/>
<circle cx="467.90" cy="91.40" r="1.55" fill="#000"/>
<circle cx="472.70" cy="89.50" r="1.55" fill="#000"/>
<circle cx="481.70" cy="85.80" r="1.55" fill="#000"/>
<circle cx="487.40" cy="87.60" r="1.55" fill="#000"/>
<circle cx="506.80" cy="87.70" r="1.55" fill="#000"/>
<path d="M291.70,174.41 C292.04,174.22 293.04,173.64 293.71,173.27 C294.38,172.90 295.05,172.54 295.72,172.18 C296.40,171.82 297.07,171.47 297.74,171.13 C298.41,170.78 299.08,170.45 299.75,170.12 C300.42,169.78 301.09,169.46 301.76,169.14 C302.43,168.82 303.10,168.51 303.77,168.20 C304.44,167.90 305.12,167.60 305.79,167.30 C306.46,167.01 307.13,166.72 307.80,166.43 C308.47,166.15 309.14,165.87 309.81,165.60 C310.48,165.33 311.15,165.06 311.82,164.80 C312.49,164.54 313.16,164.28 313.83,164.03 C314.51,163.77 315.18,163.53 315.85,163.28 C316.52,163.04 317.19,162.80 317.86,162.57 C318.53,162.34 319.20,162.11 319.87,161.88 C320.54,161.66 321.21,161.44 321.88,161.22 C322.55,161.01 323.23,160.79 323.90,160.58 C324.57,160.38 325.24,160.17 325.91,159.97 C326.58,159.77 327.25,159.57 327.92,159.38 C328.59,159.19 329.26,159.00 329.93,158.81 C330.60,158.62 331.27,158.44 331.95,158.26 C332.62,158.08 333.29,157.90 333.96,157.72 C334.63,157.55 335.30,157.38 335.97,157.21 C336.64,157.04 337.31,156.87 337.98,156.71 C338.65,156.54 339.32,156.38 339.99,156.22 C340.67,156.06 341.34,155.91 342.01,155.75 C342.68,155.59 343.35,155.44 344.02,155.29 C344.69,155.14 345.36,154.99 346.03,154.84 C346.70,154.69 347.37,154.54 348.04,154.40 C348.71,154.25 349.38,154.11 350.06,153.97 C350.73,153.82 351.40,153.68 352.07,153.54 C352.74,153.40 353.41,153.26 354.08,153.12 C354.75,152.98 355.42,152.85 356.09,152.71 C356.76,152.57 357.43,152.43 358.10,152.30 C358.78,152.16 359.45,152.02 360.12,151.89 C360.79,151.75 361.46,151.62 362.13,151.48 C362.80,151.34 363.47,151.21 364.14,151.07 C364.81,150.94 365.48,150.80 366.15,150.67 C366.82,150.53 367.50,150.40 368.17,150.26 C368.84,150.13 369.51,150.00 370.18,149.86 C370.85,149.73 371.52,149.60 372.19,149.47 C372.86,149.34 373.53,149.21 374.20,149.08 C374.87,148.96 375.54,148.83 376.22,148.71 C376.89,148.58 377.56,148.46 378.23,148.34 C378.90,148.21 379.57,148.09 380.24,147.98 C380.91,147.86 381.58,147.74 382.25,147.63 C382.92,147.51 383.59,147.40 384.26,147.29 C384.93,147.18 385.61,147.07 386.28,146.97 C386.95,146.86 387.62,146.76 388.29,146.66 C388.96,146.56 389.63,146.47 390.30,146.37 C390.97,146.28 391.64,146.19 392.31,146.10 C392.98,146.01 393.65,145.92 394.33,145.84 C395.00,145.76 395.67,145.68 396.34,145.60 C397.01,145.53 397.68,145.46 398.35,145.39 C399.02,145.32 399.69,145.26 400.36,145.20 C401.03,145.14 401.70,145.08 402.37,145.03 C403.05,144.97 403.72,144.92 404.39,144.88 C405.06,144.83 405.73,144.79 406.40,144.75 C407.07,144.72 407.74,144.68 408.41,144.65 C409.08,144.61 409.75,144.58 410.42,144.56 C411.09,144.53 411.77,144.50 412.44,144.47 C413.11,144.45 413.78,144.42 414.45,144.40 C415.12,144.37 415.79,144.35 416.46,144.32 C417.13,144.30 417.80,144.27 418.47,144.24 C419.14,144.22 419.81,144.19 420.48,144.16 C421.16,144.13 421.83,144.10 422.50,144.07 C423.17,144.04 423.84,144.00 424.51,143.96 C425.18,143.92 425.85,143.88 426.52,143.84 C427.19,143.79 427.86,143.75 428.53,143.69 C429.20,143.64 429.88,143.58 430.55,143.52 C431.22,143.46 431.89,143.39 432.56,143.32 C433.23,143.24 433.90,143.17 434.57,143.08 C435.24,143.00 435.91,142.91 436.58,142.81 C437.25,142.71 437.92,142.60 438.60,142.49 C439.27,142.38 439.94,142.26 440.61,142.13 C441.28,142.00 441.95,141.87 442.62,141.73 C443.29,141.59 443.96,141.44 444.63,141.30 C445.30,141.15 445.97,141.00 446.64,140.84 C447.32,140.69 447.99,140.53 448.66,140.38 C449.33,140.22 450.00,140.06 450.67,139.91 C451.34,139.75 452.01,139.60 452.68,139.45 C453.35,139.29 454.02,139.14 454.69,139.00 C455.36,138.85 456.03,138.71 456.71,138.58 C457.38,138.44 458.05,138.31 458.72,138.19 C459.39,138.07 460.06,137.95 460.73,137.85 C461.40,137.74 462.07,137.65 462.74,137.56 C463.41,137.48 464.08,137.40 464.75,137.34 C465.43,137.27 466.10,137.22 466.77,137.18 C467.44,137.15 468.11,137.12 468.78,137.11 C469.45,137.10 470.12,137.11 470.79,137.13 C471.46,137.16 472.13,137.20 472.80,137.25 C473.47,137.31 474.15,137.39 474.82,137.48 C475.49,137.57 476.16,137.68 476.83,137.81 C477.50,137.93 478.17,138.07 478.84,138.23 C479.51,138.39 480.18,138.56 480.85,138.76 C481.52,138.95 482.19,139.15 482.87,139.38 C483.54,139.60 484.21,139.84 484.88,140.09 C485.55,140.35 486.22,140.62 486.89,140.90 C487.56,141.19 488.23,141.49 488.90,141.80 C489.57,142.12 490.24,142.45 490.91,142.79 C491.58,143.14 492.26,143.50 492.93,143.87 C493.60,144.25 494.27,144.64 494.94,145.04 C495.61,145.44 496.28,145.86 496.95,146.29 C497.62,146.71 498.29,147.16 498.96,147.61 C499.63,148.07 500.30,148.53 500.98,149.01 C501.65,149.49 502.32,149.98 502.99,150.48 C503.66,150.98 504.66,151.76 505.00,152.01" stroke="#EDB120" stroke-width="1.2" stroke-dasharray="8.2 3 1.5 3" stroke-opacity="0.78" />
<path d="M291.70,200.38 C292.04,200.24 293.04,199.82 293.71,199.54 C294.38,199.27 295.05,199.00 295.73,198.73 C296.40,198.47 297.07,198.21 297.74,197.96 C298.41,197.70 299.08,197.46 299.75,197.21 C300.42,196.97 301.09,196.74 301.76,196.51 C302.43,196.28 303.10,196.05 303.78,195.83 C304.45,195.61 305.12,195.39 305.79,195.19 C306.46,194.98 307.13,194.77 307.80,194.57 C308.47,194.37 309.14,194.18 309.81,193.99 C310.48,193.80 311.16,193.62 311.83,193.44 C312.50,193.27 313.17,193.09 313.84,192.92 C314.51,192.76 315.18,192.59 315.85,192.44 C316.52,192.28 317.19,192.13 317.86,191.98 C318.53,191.83 319.21,191.69 319.88,191.55 C320.55,191.41 321.22,191.28 321.89,191.15 C322.56,191.02 323.23,190.90 323.90,190.78 C324.57,190.66 325.24,190.55 325.91,190.44 C326.59,190.33 327.26,190.23 327.93,190.13 C328.60,190.03 329.27,189.93 329.94,189.84 C330.61,189.75 331.28,189.67 331.95,189.59 C332.62,189.51 333.29,189.43 333.97,189.36 C334.64,189.29 335.31,189.22 335.98,189.16 C336.65,189.09 337.32,189.03 337.99,188.98 C338.66,188.93 339.33,188.88 340.00,188.83 C340.67,188.78 341.34,188.74 342.02,188.71 C342.69,188.67 343.36,188.64 344.03,188.61 C344.70,188.58 345.37,188.56 346.04,188.54 C346.71,188.52 347.38,188.50 348.05,188.49 C348.72,188.48 349.40,188.47 350.07,188.47 C350.74,188.46 351.41,188.46 352.08,188.47 C352.75,188.47 353.42,188.48 354.09,188.49 C354.76,188.50 355.43,188.52 356.10,188.54 C356.77,188.56 357.45,188.58 358.12,188.61 C358.79,188.64 359.46,188.67 360.13,188.71 C360.80,188.74 361.47,188.78 362.14,188.82 C362.81,188.87 363.48,188.91 364.15,188.96 C364.83,189.01 365.50,189.07 366.17,189.12 C366.84,189.18 367.51,189.24 368.18,189.31 C368.85,189.37 369.52,189.44 370.19,189.51 C370.86,189.58 371.53,189.66 372.20,189.73 C372.88,189.81 373.55,189.89 374.22,189.98 C374.89,190.06 375.56,190.15 376.23,190.24 C376.90,190.34 377.57,190.43 378.24,190.53 C378.91,190.63 379.58,190.73 380.26,190.83 C380.93,190.94 381.60,191.04 382.27,191.15 C382.94,191.27 383.61,191.38 384.28,191.50 C384.95,191.61 385.62,191.73 386.29,191.86 C386.96,191.98 387.63,192.10 388.31,192.23 C388.98,192.36 389.65,192.49 390.32,192.63 C390.99,192.76 391.66,192.90 392.33,193.04 C393.00,193.18 393.67,193.32 394.34,193.47 C395.01,193.62 395.69,193.76 396.36,193.92 C397.03,194.07 397.70,194.22 398.37,194.38 C399.04,194.54 399.71,194.69 400.38,194.86 C401.05,195.02 401.72,195.18 402.39,195.35 C403.07,195.52 403.74,195.69 404.41,195.86 C405.08,196.03 405.75,196.21 406.42,196.39 C407.09,196.57 407.76,196.75 408.43,196.93 C409.10,197.11 409.77,197.30 410.44,197.49 C411.12,197.68 411.79,197.87 412.46,198.06 C413.13,198.26 413.80,198.45 414.47,198.65 C415.14,198.85 415.81,199.05 416.48,199.26 C417.15,199.46 417.82,199.67 418.50,199.88 C419.17,200.09 419.84,200.30 420.51,200.52 C421.18,200.73 421.85,200.95 422.52,201.17 C423.19,201.39 423.86,201.61 424.53,201.84 C425.20,202.06 425.87,202.29 426.55,202.52 C427.22,202.75 427.89,202.99 428.56,203.22 C429.23,203.46 429.90,203.70 430.57,203.94 C431.24,204.18 431.91,204.42 432.58,204.67 C433.25,204.92 433.93,205.17 434.60,205.42 C435.27,205.67 435.94,205.92 436.61,206.18 C437.28,206.44 437.95,206.70 438.62,206.96 C439.29,207.22 439.96,207.49 440.63,207.75 C441.30,208.02 441.98,208.29 442.65,208.56 C443.32,208.84 443.99,209.11 444.66,209.39 C445.33,209.67 446.00,209.95 446.67,210.23 C447.34,210.51 448.01,210.80 448.68,211.09 C449.36,211.37 450.03,211.66 450.70,211.96 C451.37,212.25 452.04,212.55 452.71,212.84 C453.38,213.14 454.05,213.44 454.72,213.75 C455.39,214.05 456.06,214.36 456.73,214.66 C457.41,214.97 458.08,215.28 458.75,215.60 C459.42,215.91 460.09,216.23 460.76,216.55 C461.43,216.86 462.10,217.19 462.77,217.51 C463.44,217.83 464.11,218.16 464.79,218.49 C465.46,218.82 466.13,219.15 466.80,219.48 C467.47,219.82 468.14,220.15 468.81,220.49 C469.48,220.83 470.15,221.17 470.82,221.52 C471.49,221.86 472.17,222.21 472.84,222.56 C473.51,222.91 474.18,223.26 474.85,223.61 C475.52,223.97 476.19,224.33 476.86,224.68 C477.53,225.04 478.20,225.41 478.87,225.77 C479.54,226.13 480.22,226.50 480.89,226.87 C481.56,227.24 482.23,227.61 482.90,227.99 C483.57,228.36 484.24,228.74 484.91,229.12 C485.58,229.50 486.25,229.88 486.92,230.26 C487.60,230.65 488.27,231.04 488.94,231.43 C489.61,231.81 490.28,232.21 490.95,232.60 C491.62,233.00 492.29,233.39 492.96,233.79 C493.63,234.19 494.30,234.59 494.97,235.00 C495.65,235.40 496.32,235.81 496.99,236.22 C497.66,236.63 498.66,237.25 499.00,237.46" stroke="#7E2F8E" stroke-width="1.2" stroke-dasharray="9 6.8" stroke-opacity="0.78" />
<path d="M291.70,203.81 C292.04,203.61 293.04,202.99 293.71,202.59 C294.38,202.18 295.05,201.77 295.72,201.36 C296.40,200.95 297.07,200.54 297.74,200.13 C298.41,199.72 299.08,199.30 299.75,198.89 C300.42,198.48 301.09,198.07 301.76,197.66 C302.43,197.25 303.10,196.83 303.77,196.42 C304.44,196.01 305.12,195.60 305.79,195.19 C306.46,194.78 307.13,194.38 307.80,193.97 C308.47,193.56 309.14,193.15 309.81,192.75 C310.48,192.34 311.15,191.94 311.82,191.54 C312.49,191.13 313.16,190.73 313.83,190.33 C314.51,189.94 315.18,189.54 315.85,189.14 C316.52,188.75 317.19,188.36 317.86,187.97 C318.53,187.58 319.20,187.19 319.87,186.80 C320.54,186.42 321.21,186.04 321.88,185.66 C322.55,185.28 323.23,184.90 323.90,184.53 C324.57,184.15 325.24,183.78 325.91,183.42 C326.58,183.05 327.25,182.69 327.92,182.33 C328.59,181.97 329.26,181.62 329.93,181.27 C330.60,180.92 331.27,180.57 331.95,180.23 C332.62,179.88 333.29,179.55 333.96,179.21 C334.63,178.88 335.30,178.55 335.97,178.23 C336.64,177.91 337.31,177.59 337.98,177.27 C338.65,176.96 339.32,176.65 339.99,176.35 C340.67,176.05 341.34,175.75 342.01,175.46 C342.68,175.17 343.35,174.88 344.02,174.60 C344.69,174.32 345.36,174.05 346.03,173.78 C346.70,173.51 347.37,173.25 348.04,172.99 C348.71,172.73 349.38,172.48 350.06,172.23 C350.73,171.99 351.40,171.75 352.07,171.51 C352.74,171.27 353.41,171.04 354.08,170.81 C354.75,170.58 355.42,170.36 356.09,170.14 C356.76,169.92 357.43,169.71 358.10,169.50 C358.78,169.28 359.45,169.08 360.12,168.88 C360.79,168.67 361.46,168.47 362.13,168.28 C362.80,168.08 363.47,167.89 364.14,167.71 C364.81,167.52 365.48,167.33 366.15,167.15 C366.82,166.97 367.50,166.79 368.17,166.62 C368.84,166.44 369.51,166.27 370.18,166.10 C370.85,165.93 371.52,165.77 372.19,165.60 C372.86,165.44 373.53,165.28 374.20,165.12 C374.87,164.96 375.54,164.80 376.22,164.65 C376.89,164.49 377.56,164.34 378.23,164.19 C378.90,164.04 379.57,163.89 380.24,163.74 C380.91,163.59 381.58,163.45 382.25,163.30 C382.92,163.16 383.59,163.02 384.26,162.87 C384.93,162.73 385.61,162.59 386.28,162.45 C386.95,162.31 387.62,162.17 388.29,162.04 C388.96,161.90 389.63,161.76 390.30,161.62 C390.97,161.49 391.64,161.35 392.31,161.21 C392.98,161.08 393.65,160.94 394.33,160.81 C395.00,160.67 395.67,160.53 396.34,160.40 C397.01,160.26 397.68,160.13 398.35,159.99 C399.02,159.85 399.69,159.72 400.36,159.58 C401.03,159.44 401.70,159.30 402.37,159.16 C403.05,159.02 403.72,158.88 404.39,158.74 C405.06,158.60 405.73,158.46 406.40,158.31 C407.07,158.17 407.74,158.03 408.41,157.88 C409.08,157.74 409.75,157.59 410.42,157.44 C411.09,157.29 411.77,157.15 412.44,157.00 C413.11,156.85 413.78,156.70 414.45,156.54 C415.12,156.39 415.79,156.24 416.46,156.09 C417.13,155.93 417.80,155.78 418.47,155.62 C419.14,155.46 419.81,155.31 420.48,155.15 C421.16,154.99 421.83,154.83 422.50,154.67 C423.17,154.51 423.84,154.35 424.51,154.19 C425.18,154.02 425.85,153.86 426.52,153.69 C427.19,153.53 427.86,153.36 428.53,153.19 C429.20,153.03 429.88,152.86 430.55,152.69 C431.22,152.52 431.89,152.35 432.56,152.17 C433.23,152.00 433.90,151.83 434.57,151.65 C435.24,151.48 435.91,151.30 436.58,151.12 C437.25,150.95 437.92,150.77 438.60,150.59 C439.27,150.41 439.94,150.23 440.61,150.05 C441.28,149.86 441.95,149.68 442.62,149.50 C443.29,149.31 443.96,149.12 444.63,148.94 C445.30,148.75 445.97,148.56 446.64,148.37 C447.32,148.18 447.99,147.99 448.66,147.80 C449.33,147.60 450.00,147.41 450.67,147.21 C451.34,147.02 452.01,146.82 452.68,146.62 C453.35,146.42 454.02,146.22 454.69,146.02 C455.36,145.82 456.03,145.62 456.71,145.43 C457.38,145.23 458.05,145.03 458.72,144.84 C459.39,144.65 460.06,144.46 460.73,144.28 C461.40,144.10 462.07,143.93 462.74,143.76 C463.41,143.60 464.08,143.44 464.75,143.30 C465.43,143.15 466.10,143.01 466.77,142.89 C467.44,142.77 468.11,142.66 468.78,142.56 C469.45,142.47 470.12,142.39 470.79,142.33 C471.46,142.26 472.13,142.22 472.80,142.19 C473.47,142.16 474.15,142.16 474.82,142.17 C475.49,142.18 476.16,142.22 476.83,142.28 C477.50,142.33 478.17,142.41 478.84,142.52 C479.51,142.63 480.18,142.76 480.85,142.92 C481.52,143.08 482.19,143.27 482.87,143.48 C483.54,143.69 484.21,143.92 484.88,144.18 C485.55,144.43 486.22,144.71 486.89,145.01 C487.56,145.30 488.23,145.62 488.90,145.95 C489.57,146.28 490.24,146.63 490.91,146.99 C491.58,147.34 492.26,147.72 492.93,148.10 C493.60,148.49 494.27,148.88 494.94,149.29 C495.61,149.69 496.28,150.10 496.95,150.52 C497.62,150.94 498.29,151.36 498.96,151.79 C499.63,152.21 500.30,152.64 500.98,153.07 C501.65,153.50 502.32,153.93 502.99,154.36 C503.66,154.79 504.66,155.43 505.00,155.64" stroke="#77AC30" stroke-width="1.1" stroke-dasharray="1.1 2.75" stroke-opacity="0.8" />
<path d="M291.70,187.00 C291.95,186.88 292.71,186.49 293.21,186.26 C293.71,186.02 294.22,185.79 294.72,185.57 C295.22,185.34 295.72,185.13 296.23,184.93 C296.73,184.72 297.23,184.53 297.74,184.34 C298.24,184.15 298.74,183.97 299.25,183.80 C299.75,183.62 300.25,183.46 300.75,183.30 C301.26,183.14 301.76,182.99 302.26,182.84 C302.77,182.70 303.27,182.56 303.77,182.43 C304.28,182.29 304.78,182.17 305.28,182.05 C305.79,181.93 306.29,181.81 306.79,181.70 C307.29,181.59 307.80,181.49 308.30,181.39 C308.80,181.29 309.31,181.19 309.81,181.10 C310.31,181.01 310.82,180.93 311.32,180.85 C311.82,180.77 312.33,180.69 312.83,180.61 C313.33,180.54 313.83,180.47 314.34,180.40 C314.84,180.34 315.34,180.27 315.85,180.21 C316.35,180.15 316.85,180.09 317.36,180.04 C317.86,179.98 318.36,179.93 318.86,179.88 C319.37,179.83 319.87,179.78 320.37,179.73 C320.88,179.68 321.38,179.64 321.88,179.59 C322.39,179.55 322.89,179.51 323.39,179.46 C323.90,179.42 324.40,179.38 324.90,179.34 C325.40,179.30 325.91,179.25 326.41,179.21 C326.91,179.17 327.42,179.13 327.92,179.09 C328.42,179.05 328.93,179.00 329.43,178.96 C329.93,178.92 330.43,178.87 330.94,178.83 C331.44,178.78 331.94,178.74 332.45,178.69 C332.95,178.64 333.45,178.59 333.96,178.54 C334.46,178.48 334.96,178.43 335.47,178.37 C335.97,178.32 336.47,178.26 336.97,178.19 C337.48,178.13 337.98,178.07 338.48,178.00 C338.99,177.93 339.49,177.86 339.99,177.77 C340.50,177.69 341.00,177.61 341.50,177.51 C342.01,177.41 342.51,177.31 343.01,177.19 C343.51,177.07 344.02,176.94 344.52,176.80 C345.02,176.65 345.53,176.50 346.03,176.32 C346.53,176.15 347.04,175.96 347.54,175.74 C348.04,175.53 348.54,175.30 349.05,175.05 C349.55,174.80 350.05,174.52 350.56,174.23 C351.06,173.94 351.56,173.63 352.07,173.30 C352.57,172.97 353.07,172.62 353.58,172.25 C354.08,171.88 354.58,171.50 355.08,171.10 C355.59,170.70 356.09,170.28 356.59,169.85 C357.10,169.42 357.60,168.96 358.10,168.51 C358.61,168.05 359.11,167.57 359.61,167.09 C360.12,166.62 360.62,166.13 361.12,165.65 C361.62,165.17 362.13,164.69 362.63,164.22 C363.13,163.76 363.64,163.29 364.14,162.85 C364.64,162.41 365.15,161.98 365.65,161.58 C366.15,161.19 366.65,160.81 367.16,160.46 C367.66,160.11 368.16,159.79 368.67,159.49 C369.17,159.19 369.67,158.91 370.18,158.65 C370.68,158.39 371.18,158.14 371.69,157.90 C372.19,157.67 372.69,157.44 373.19,157.22 C373.70,157.00 374.20,156.79 374.70,156.57 C375.21,156.36 375.71,156.15 376.21,155.92 C376.72,155.70 377.22,155.48 377.72,155.24 C378.22,155.00 378.73,154.76 379.23,154.50 C379.73,154.23 380.24,153.95 380.74,153.66 C381.24,153.37 381.75,153.06 382.25,152.74 C382.75,152.41 383.26,152.08 383.76,151.73 C384.26,151.38 384.76,151.02 385.27,150.65 C385.77,150.28 386.27,149.89 386.78,149.50 C387.28,149.11 387.78,148.71 388.29,148.30 C388.79,147.89 389.29,147.47 389.80,147.05 C390.30,146.62 390.80,146.19 391.30,145.76 C391.81,145.32 392.31,144.88 392.81,144.43 C393.32,143.99 393.82,143.54 394.32,143.08 C394.83,142.63 395.33,142.18 395.83,141.72 C396.33,141.26 396.84,140.80 397.34,140.34 C397.84,139.88 398.35,139.42 398.85,138.96 C399.35,138.50 399.86,138.04 400.36,137.59 C400.86,137.13 401.37,136.68 401.87,136.23 C402.37,135.78 402.87,135.34 403.38,134.90 C403.88,134.47 404.38,134.04 404.89,133.62 C405.39,133.20 405.89,132.79 406.40,132.39 C406.90,132.00 407.40,131.61 407.90,131.24 C408.41,130.87 408.91,130.51 409.41,130.17 C409.92,129.84 410.42,129.51 410.92,129.21 C411.43,128.91 411.93,128.63 412.43,128.36 C412.94,128.10 413.44,127.86 413.94,127.63 C414.44,127.40 414.95,127.20 415.45,126.99 C415.95,126.78 416.46,126.59 416.96,126.40 C417.46,126.21 417.97,126.03 418.47,125.84 C418.97,125.65 419.48,125.46 419.98,125.26 C420.48,125.06 420.98,124.86 421.49,124.65 C421.99,124.43 422.49,124.20 423.00,123.96 C423.50,123.71 424.00,123.45 424.51,123.16 C425.01,122.87 425.51,122.56 426.01,122.23 C426.52,121.90 427.02,121.55 427.52,121.19 C428.03,120.83 428.53,120.45 429.03,120.07 C429.54,119.69 430.04,119.30 430.54,118.92 C431.05,118.53 431.55,118.14 432.05,117.76 C432.55,117.37 433.06,116.99 433.56,116.63 C434.06,116.26 434.57,115.91 435.07,115.56 C435.57,115.22 436.08,114.89 436.58,114.57 C437.08,114.26 437.58,113.95 438.09,113.66 C438.59,113.37 439.09,113.09 439.60,112.83 C440.10,112.56 440.60,112.31 441.11,112.08 C441.61,111.84 442.11,111.62 442.62,111.41 C443.12,111.20 443.62,111.01 444.12,110.82 C444.63,110.64 445.13,110.46 445.63,110.29 C446.14,110.11 446.64,109.95 447.14,109.79 C447.65,109.62 448.15,109.46 448.65,109.29 C449.16,109.13 449.66,108.96 450.16,108.79 C450.66,108.62 451.17,108.44 451.67,108.27 C452.17,108.10 452.68,107.92 453.18,107.75 C453.68,107.59 454.19,107.42 454.69,107.27 C455.19,107.12 455.69,106.98 456.20,106.86 C456.70,106.74 457.20,106.62 457.71,106.54 C458.21,106.45 458.71,106.39 459.22,106.35 C459.72,106.31 460.22,106.30 460.73,106.31 C461.23,106.31 461.73,106.35 462.23,106.38 C462.74,106.40 463.24,106.44 463.74,106.46 C464.25,106.47 464.75,106.49 465.25,106.47 C465.76,106.44 466.26,106.40 466.76,106.31 C467.27,106.23 467.77,106.11 468.27,105.96 C468.77,105.81 469.28,105.63 469.78,105.43 C470.28,105.24 470.79,105.01 471.29,104.77 C471.79,104.54 472.30,104.28 472.80,104.02 C473.30,103.75 473.80,103.47 474.31,103.20 C474.81,102.92 475.31,102.63 475.82,102.35 C476.32,102.07 476.82,101.78 477.33,101.51 C477.83,101.24 478.33,100.97 478.84,100.72 C479.34,100.47 479.84,100.23 480.34,100.01 C480.85,99.80 481.35,99.59 481.85,99.42 C482.36,99.25 482.86,99.11 483.36,98.98 C483.87,98.86 484.37,98.77 484.87,98.68 C485.37,98.60 485.88,98.53 486.38,98.47 C486.88,98.40 487.39,98.35 487.89,98.28 C488.39,98.22 488.90,98.16 489.40,98.08 C489.90,98.00 490.41,97.91 490.91,97.82 C491.41,97.73 491.91,97.63 492.42,97.53 C492.92,97.43 493.42,97.32 493.93,97.22 C494.43,97.11 494.93,97.01 495.44,96.91 C495.94,96.81 496.44,96.71 496.95,96.61 C497.45,96.52 497.95,96.43 498.45,96.36 C498.96,96.28 499.46,96.21 499.96,96.16 C500.47,96.11 500.97,96.06 501.47,96.04 C501.98,96.01 502.48,96.00 502.98,96.00 C503.48,96.01 503.99,96.04 504.49,96.09 C504.99,96.14 505.75,96.26 506.00,96.30" stroke="#595959" stroke-width="1" />
<path d="M291.70,144.99 C292.03,144.84 293.04,144.39 293.70,144.09 C294.37,143.79 295.04,143.50 295.71,143.20 C296.37,142.91 297.04,142.62 297.71,142.33 C298.38,142.04 299.04,141.75 299.71,141.47 C300.38,141.18 301.05,140.90 301.71,140.62 C302.38,140.34 303.05,140.06 303.72,139.79 C304.38,139.51 305.05,139.23 305.72,138.96 C306.39,138.69 307.05,138.42 307.72,138.15 C308.39,137.88 309.06,137.61 309.73,137.35 C310.39,137.08 311.06,136.82 311.73,136.56 C312.40,136.30 313.06,136.04 313.73,135.78 C314.40,135.52 315.07,135.26 315.73,135.01 C316.40,134.76 317.07,134.50 317.74,134.25 C318.40,134.00 319.07,133.75 319.74,133.50 C320.41,133.26 321.07,133.01 321.74,132.76 C322.41,132.52 323.08,132.28 323.74,132.04 C324.41,131.79 325.08,131.55 325.75,131.32 C326.42,131.08 327.08,130.84 327.75,130.60 C328.42,130.37 329.09,130.13 329.75,129.90 C330.42,129.67 331.09,129.44 331.76,129.21 C332.42,128.98 333.09,128.75 333.76,128.52 C334.43,128.30 335.09,128.07 335.76,127.84 C336.43,127.62 337.10,127.40 337.76,127.17 C338.43,126.95 339.10,126.73 339.77,126.51 C340.43,126.29 341.10,126.07 341.77,125.86 C342.44,125.64 343.11,125.42 343.77,125.21 C344.44,124.99 345.11,124.78 345.78,124.57 C346.44,124.35 347.11,124.14 347.78,123.93 C348.45,123.72 349.11,123.51 349.78,123.30 C350.45,123.09 351.12,122.88 351.78,122.68 C352.45,122.47 353.12,122.26 353.79,122.06 C354.45,121.85 355.12,121.65 355.79,121.44 C356.46,121.24 357.12,121.04 357.79,120.84 C358.46,120.63 359.13,120.43 359.80,120.23 C360.46,120.03 361.13,119.83 361.80,119.63 C362.47,119.44 363.13,119.24 363.80,119.04 C364.47,118.84 365.14,118.65 365.80,118.45 C366.47,118.25 367.14,118.06 367.81,117.86 C368.47,117.67 369.14,117.47 369.81,117.28 C370.48,117.08 371.14,116.89 371.81,116.70 C372.48,116.51 373.15,116.31 373.81,116.12 C374.48,115.93 375.15,115.74 375.82,115.55 C376.49,115.36 377.15,115.16 377.82,114.97 C378.49,114.78 379.16,114.59 379.82,114.40 C380.49,114.21 381.16,114.02 381.83,113.84 C382.49,113.65 383.16,113.46 383.83,113.27 C384.50,113.08 385.16,112.89 385.83,112.70 C386.50,112.52 387.17,112.33 387.83,112.14 C388.50,111.95 389.17,111.76 389.84,111.58 C390.50,111.39 391.17,111.20 391.84,111.01 C392.51,110.83 393.18,110.64 393.84,110.45 C394.51,110.26 395.18,110.08 395.85,109.89 C396.51,109.70 397.18,109.51 397.85,109.32 C398.52,109.14 399.18,108.95 399.85,108.76 C400.52,108.57 401.19,108.39 401.85,108.20 C402.52,108.01 403.19,107.82 403.86,107.63 C404.52,107.44 405.19,107.25 405.86,107.07 C406.53,106.88 407.20,106.69 407.86,106.50 C408.53,106.31 409.20,106.12 409.87,105.93 C410.53,105.74 411.20,105.55 411.87,105.36 C412.54,105.17 413.20,104.97 413.87,104.78 C414.54,104.59 415.21,104.40 415.87,104.21 C416.54,104.01 417.21,103.82 417.88,103.63 C418.54,103.43 419.21,103.24 419.88,103.04 C420.55,102.85 421.21,102.65 421.88,102.46 C422.55,102.26 423.22,102.07 423.89,101.87 C424.55,101.68 425.22,101.48 425.89,101.29 C426.56,101.09 427.22,100.89 427.89,100.70 C428.56,100.50 429.23,100.31 429.89,100.11 C430.56,99.92 431.23,99.72 431.90,99.53 C432.56,99.33 433.23,99.14 433.90,98.95 C434.57,98.75 435.23,98.56 435.90,98.37 C436.57,98.18 437.24,97.98 437.90,97.79 C438.57,97.60 439.24,97.41 439.91,97.22 C440.58,97.03 441.24,96.84 441.91,96.66 C442.58,96.47 443.25,96.28 443.91,96.10 C444.58,95.91 445.25,95.73 445.92,95.55 C446.58,95.36 447.25,95.18 447.92,95.00 C448.59,94.82 449.25,94.64 449.92,94.47 C450.59,94.29 451.26,94.11 451.92,93.94 C452.59,93.76 453.26,93.59 453.93,93.42 C454.59,93.25 455.26,93.08 455.93,92.91 C456.60,92.75 457.27,92.58 457.93,92.42 C458.60,92.26 459.27,92.09 459.94,91.94 C460.60,91.78 461.27,91.62 461.94,91.46 C462.61,91.31 463.27,91.16 463.94,91.01 C464.61,90.86 465.28,90.71 465.94,90.57 C466.61,90.42 467.28,90.28 467.95,90.14 C468.61,90.00 469.28,89.86 469.95,89.73 C470.62,89.59 471.28,89.46 471.95,89.33 C472.62,89.20 473.29,89.08 473.96,88.95 C474.62,88.83 475.29,88.71 475.96,88.59 C476.63,88.48 477.29,88.36 477.96,88.25 C478.63,88.14 479.30,88.04 479.96,87.93 C480.63,87.83 481.30,87.73 481.97,87.63 C482.63,87.54 483.30,87.44 483.97,87.35 C484.64,87.26 485.30,87.18 485.97,87.10 C486.64,87.01 487.31,86.93 487.97,86.86 C488.64,86.79 489.31,86.71 489.98,86.65 C490.65,86.58 491.31,86.52 491.98,86.46 C492.65,86.40 493.32,86.35 493.98,86.30 C494.65,86.25 495.32,86.20 495.99,86.16 C496.65,86.12 497.32,86.08 497.99,86.05 C498.66,86.02 499.32,85.99 499.99,85.97 C500.66,85.94 501.33,85.93 501.99,85.91 C502.66,85.90 503.33,85.89 504.00,85.88 C504.66,85.88 505.67,85.89 506.00,85.89" stroke="#D95319" stroke-width="2" stroke-linejoin="round" />
<path d="M291.70,159.19 C292.03,159.00 293.04,158.44 293.70,158.07 C294.37,157.70 295.04,157.33 295.71,156.97 C296.37,156.60 297.04,156.24 297.71,155.88 C298.38,155.52 299.04,155.16 299.71,154.80 C300.38,154.45 301.05,154.10 301.71,153.75 C302.38,153.40 303.05,153.05 303.72,152.70 C304.38,152.35 305.05,152.01 305.72,151.67 C306.39,151.33 307.05,150.99 307.72,150.65 C308.39,150.31 309.06,149.98 309.73,149.64 C310.39,149.31 311.06,148.98 311.73,148.65 C312.40,148.32 313.06,147.99 313.73,147.67 C314.40,147.34 315.07,147.02 315.73,146.70 C316.40,146.38 317.07,146.06 317.74,145.74 C318.40,145.42 319.07,145.11 319.74,144.80 C320.41,144.48 321.07,144.17 321.74,143.86 C322.41,143.55 323.08,143.24 323.74,142.93 C324.41,142.63 325.08,142.32 325.75,142.02 C326.42,141.71 327.08,141.41 327.75,141.11 C328.42,140.81 329.09,140.51 329.75,140.22 C330.42,139.92 331.09,139.62 331.76,139.33 C332.42,139.03 333.09,138.74 333.76,138.45 C334.43,138.16 335.09,137.87 335.76,137.58 C336.43,137.29 337.10,137.00 337.76,136.72 C338.43,136.43 339.10,136.15 339.77,135.86 C340.43,135.58 341.10,135.30 341.77,135.02 C342.44,134.73 343.11,134.45 343.77,134.18 C344.44,133.90 345.11,133.62 345.78,133.34 C346.44,133.07 347.11,132.79 347.78,132.51 C348.45,132.24 349.11,131.97 349.78,131.69 C350.45,131.42 351.12,131.15 351.78,130.88 C352.45,130.61 353.12,130.34 353.79,130.07 C354.45,129.80 355.12,129.53 355.79,129.26 C356.46,128.99 357.12,128.73 357.79,128.46 C358.46,128.19 359.13,127.93 359.80,127.66 C360.46,127.40 361.13,127.14 361.80,126.87 C362.47,126.61 363.13,126.35 363.80,126.08 C364.47,125.82 365.14,125.56 365.80,125.30 C366.47,125.04 367.14,124.77 367.81,124.51 C368.47,124.25 369.14,123.99 369.81,123.73 C370.48,123.47 371.14,123.21 371.81,122.95 C372.48,122.70 373.15,122.44 373.81,122.18 C374.48,121.92 375.15,121.66 375.82,121.40 C376.49,121.15 377.15,120.89 377.82,120.63 C378.49,120.37 379.16,120.11 379.82,119.86 C380.49,119.60 381.16,119.34 381.83,119.08 C382.49,118.83 383.16,118.57 383.83,118.31 C384.50,118.05 385.16,117.80 385.83,117.54 C386.50,117.28 387.17,117.02 387.83,116.77 C388.50,116.51 389.17,116.25 389.84,115.99 C390.50,115.73 391.17,115.48 391.84,115.22 C392.51,114.96 393.18,114.70 393.84,114.44 C394.51,114.18 395.18,113.92 395.85,113.66 C396.51,113.40 397.18,113.14 397.85,112.88 C398.52,112.62 399.18,112.36 399.85,112.10 C400.52,111.84 401.19,111.57 401.85,111.31 C402.52,111.05 403.19,110.79 403.86,110.53 C404.52,110.27 405.19,110.00 405.86,109.74 C406.53,109.48 407.20,109.22 407.86,108.96 C408.53,108.70 409.20,108.43 409.87,108.17 C410.53,107.91 411.20,107.65 411.87,107.39 C412.54,107.13 413.20,106.87 413.87,106.61 C414.54,106.35 415.21,106.10 415.87,105.84 C416.54,105.58 417.21,105.32 417.88,105.07 C418.54,104.81 419.21,104.56 419.88,104.30 C420.55,104.05 421.21,103.80 421.88,103.54 C422.55,103.29 423.22,103.04 423.89,102.79 C424.55,102.54 425.22,102.29 425.89,102.05 C426.56,101.80 427.22,101.55 427.89,101.31 C428.56,101.06 429.23,100.82 429.89,100.58 C430.56,100.34 431.23,100.10 431.90,99.86 C432.56,99.62 433.23,99.39 433.90,99.15 C434.57,98.92 435.23,98.69 435.90,98.46 C436.57,98.23 437.24,98.00 437.90,97.77 C438.57,97.55 439.24,97.32 439.91,97.10 C440.58,96.88 441.24,96.66 441.91,96.44 C442.58,96.22 443.25,96.01 443.91,95.80 C444.58,95.58 445.25,95.37 445.92,95.17 C446.58,94.96 447.25,94.75 447.92,94.55 C448.59,94.35 449.25,94.15 449.92,93.95 C450.59,93.76 451.26,93.56 451.92,93.37 C452.59,93.18 453.26,92.99 453.93,92.81 C454.59,92.62 455.26,92.44 455.93,92.26 C456.60,92.09 457.27,91.91 457.93,91.74 C458.60,91.57 459.27,91.40 459.94,91.23 C460.60,91.07 461.27,90.91 461.94,90.75 C462.61,90.59 463.27,90.44 463.94,90.29 C464.61,90.14 465.28,89.99 465.94,89.85 C466.61,89.70 467.28,89.56 467.95,89.43 C468.61,89.29 469.28,89.16 469.95,89.04 C470.62,88.91 471.28,88.79 471.95,88.67 C472.62,88.55 473.29,88.43 473.96,88.32 C474.62,88.21 475.29,88.11 475.96,88.01 C476.63,87.91 477.29,87.81 477.96,87.72 C478.63,87.62 479.30,87.54 479.96,87.45 C480.63,87.37 481.30,87.29 481.97,87.22 C482.63,87.14 483.30,87.08 483.97,87.01 C484.64,86.95 485.30,86.89 485.97,86.84 C486.64,86.78 487.31,86.73 487.97,86.69 C488.64,86.65 489.31,86.61 489.98,86.58 C490.65,86.54 491.31,86.52 491.98,86.50 C492.65,86.47 493.32,86.46 493.98,86.45 C494.65,86.44 495.32,86.43 495.99,86.43 C496.65,86.43 497.32,86.44 497.99,86.45 C498.66,86.46 499.32,86.48 499.99,86.50 C500.66,86.53 501.33,86.56 501.99,86.59 C502.66,86.63 503.33,86.67 504.00,86.72 C504.66,86.77 505.67,86.86 506.00,86.88" stroke="#EDB120" stroke-width="2" stroke-linejoin="round" />
<path d="M291.70,161.30 C292.03,161.10 293.04,160.51 293.70,160.11 C294.37,159.72 295.04,159.32 295.71,158.93 C296.37,158.54 297.04,158.15 297.71,157.76 C298.38,157.37 299.04,156.98 299.71,156.60 C300.38,156.21 301.05,155.83 301.71,155.45 C302.38,155.07 303.05,154.70 303.72,154.33 C304.38,153.96 305.05,153.59 305.72,153.23 C306.39,152.87 307.05,152.51 307.72,152.16 C308.39,151.81 309.06,151.47 309.73,151.13 C310.39,150.79 311.06,150.46 311.73,150.14 C312.40,149.81 313.06,149.49 313.73,149.18 C314.40,148.87 315.07,148.57 315.73,148.28 C316.40,147.99 317.07,147.70 317.74,147.42 C318.40,147.14 319.07,146.87 319.74,146.60 C320.41,146.33 321.07,146.07 321.74,145.80 C322.41,145.53 323.08,145.27 323.74,144.99 C324.41,144.72 325.08,144.45 325.75,144.17 C326.42,143.88 327.08,143.59 327.75,143.30 C328.42,143.00 329.09,142.70 329.75,142.39 C330.42,142.09 331.09,141.77 331.76,141.46 C332.42,141.14 333.09,140.82 333.76,140.50 C334.43,140.18 335.09,139.85 335.76,139.53 C336.43,139.20 337.10,138.87 337.76,138.54 C338.43,138.22 339.10,137.89 339.77,137.56 C340.43,137.24 341.10,136.91 341.77,136.59 C342.44,136.27 343.11,135.95 343.77,135.63 C344.44,135.32 345.11,135.00 345.78,134.70 C346.44,134.39 347.11,134.08 347.78,133.78 C348.45,133.47 349.11,133.17 349.78,132.88 C350.45,132.58 351.12,132.29 351.78,131.99 C352.45,131.70 353.12,131.41 353.79,131.13 C354.45,130.84 355.12,130.56 355.79,130.27 C356.46,129.99 357.12,129.71 357.79,129.44 C358.46,129.16 359.13,128.88 359.80,128.61 C360.46,128.34 361.13,128.07 361.80,127.80 C362.47,127.53 363.13,127.26 363.80,126.99 C364.47,126.73 365.14,126.46 365.80,126.20 C366.47,125.94 367.14,125.68 367.81,125.42 C368.47,125.16 369.14,124.90 369.81,124.64 C370.48,124.38 371.14,124.13 371.81,123.87 C372.48,123.61 373.15,123.36 373.81,123.11 C374.48,122.85 375.15,122.60 375.82,122.34 C376.49,122.09 377.15,121.84 377.82,121.59 C378.49,121.33 379.16,121.08 379.82,120.83 C380.49,120.58 381.16,120.33 381.83,120.08 C382.49,119.83 383.16,119.57 383.83,119.32 C384.50,119.07 385.16,118.82 385.83,118.57 C386.50,118.31 387.17,118.06 387.83,117.81 C388.50,117.56 389.17,117.30 389.84,117.05 C390.50,116.79 391.17,116.54 391.84,116.28 C392.51,116.03 393.18,115.77 393.84,115.51 C394.51,115.26 395.18,115.00 395.85,114.74 C396.51,114.48 397.18,114.21 397.85,113.95 C398.52,113.69 399.18,113.43 399.85,113.16 C400.52,112.89 401.19,112.63 401.85,112.36 C402.52,112.09 403.19,111.82 403.86,111.56 C404.52,111.29 405.19,111.02 405.86,110.75 C406.53,110.48 407.20,110.20 407.86,109.93 C408.53,109.66 409.20,109.39 409.87,109.12 C410.53,108.84 411.20,108.57 411.87,108.30 C412.54,108.03 413.20,107.75 413.87,107.48 C414.54,107.21 415.21,106.93 415.87,106.66 C416.54,106.39 417.21,106.12 417.88,105.85 C418.54,105.57 419.21,105.30 419.88,105.03 C420.55,104.76 421.21,104.49 421.88,104.22 C422.55,103.95 423.22,103.68 423.89,103.42 C424.55,103.15 425.22,102.88 425.89,102.62 C426.56,102.35 427.22,102.09 427.89,101.82 C428.56,101.56 429.23,101.30 429.89,101.04 C430.56,100.78 431.23,100.52 431.90,100.26 C432.56,100.00 433.23,99.75 433.90,99.49 C434.57,99.24 435.23,98.99 435.90,98.74 C436.57,98.49 437.24,98.24 437.90,98.00 C438.57,97.75 439.24,97.51 439.91,97.27 C440.58,97.03 441.24,96.79 441.91,96.55 C442.58,96.31 443.25,96.08 443.91,95.85 C444.58,95.62 445.25,95.39 445.92,95.17 C446.58,94.94 447.25,94.72 447.92,94.50 C448.59,94.28 449.25,94.06 449.92,93.85 C450.59,93.64 451.26,93.43 451.92,93.22 C452.59,93.02 453.26,92.81 453.93,92.61 C454.59,92.41 455.26,92.22 455.93,92.03 C456.60,91.83 457.27,91.65 457.93,91.46 C458.60,91.28 459.27,91.10 459.94,90.92 C460.60,90.75 461.27,90.57 461.94,90.41 C462.61,90.24 463.27,90.07 463.94,89.92 C464.61,89.76 465.28,89.60 465.94,89.45 C466.61,89.30 467.28,89.16 467.95,89.02 C468.61,88.88 469.28,88.74 469.95,88.61 C470.62,88.48 471.28,88.36 471.95,88.23 C472.62,88.11 473.29,88.00 473.96,87.89 C474.62,87.78 475.29,87.67 475.96,87.57 C476.63,87.47 477.29,87.38 477.96,87.29 C478.63,87.20 479.30,87.12 479.96,87.04 C480.63,86.96 481.30,86.89 481.97,86.82 C482.63,86.75 483.30,86.69 483.97,86.64 C484.64,86.58 485.30,86.53 485.97,86.49 C486.64,86.45 487.31,86.41 487.97,86.38 C488.64,86.34 489.31,86.32 489.98,86.30 C490.65,86.28 491.31,86.27 491.98,86.26 C492.65,86.25 493.32,86.25 493.98,86.26 C494.65,86.26 495.32,86.28 495.99,86.30 C496.65,86.32 497.32,86.34 497.99,86.37 C498.66,86.41 499.32,86.44 499.99,86.49 C500.66,86.54 501.33,86.59 501.99,86.65 C502.66,86.71 503.33,86.78 504.00,86.85 C504.66,86.92 505.67,87.05 506.00,87.09" stroke="#0072BD" stroke-width="2" stroke-linejoin="round" />
</g>
<g clip-path="url(#c2)" fill="none">
<path d="M527.20,132.60V141.60M523.60,132.60H530.80M523.60,141.60H530.80M559.30,87.70V97.60M555.70,87.70H562.90M555.70,97.60H562.90M578.30,59.50V66.20M574.70,59.50H581.90M574.70,66.20H581.90M591.80,50.90V53.00M588.20,50.90H595.40M588.20,53.00H595.40M600.90,50.20V52.30M597.30,50.20H604.50M597.30,52.30H604.50M612.30,47.50V50.90M608.70,47.50H615.90M608.70,50.90H615.90M619.80,43.00V45.30M616.20,43.00H623.40M616.20,45.30H623.40M625.20,32.40V36.20M621.60,32.40H628.80M621.60,36.20H628.80M630.50,27.20V29.40M626.90,27.20H634.10M626.90,29.40H634.10M634.20,25.20V27.50M630.60,25.20H637.80M630.60,27.50H637.80M638.80,22.60V25.40M635.20,22.60H642.40M635.20,25.40H642.40M642.60,21.30V23.80M639.00,21.30H646.20M639.00,23.80H646.20M653.00,23.20V26.00M649.40,23.20H656.60M649.40,26.00H656.60M657.50,23.20V28.00M653.90,23.20H661.10M653.90,28.00H661.10M661.00,23.00V28.00M657.40,23.00H664.60M657.40,28.00H664.60M664.50,22.80V28.00M660.90,22.80H668.10M660.90,28.00H668.10M668.50,23.20V25.50M664.90,23.20H672.10M664.90,25.50H672.10M680.80,21.50V26.00M677.20,21.50H684.40M677.20,26.00H684.40M691.80,23.00V27.40M688.20,23.00H695.40M688.20,27.40H695.40M699.70,21.50V24.00M696.10,21.50H703.30M696.10,24.00H703.30M712.50,16.20V19.50M708.90,16.20H716.10M708.90,19.50H716.10M714.10,15.09V19.61M710.50,15.09H717.70M710.50,19.61H717.70M715.70,14.30V19.71M712.10,14.30H719.30M712.10,19.71H719.30M717.30,13.77V19.82M713.70,13.77H720.90M713.70,19.82H720.90M718.90,13.23V19.93M715.30,13.23H722.50M715.30,19.93H722.50M720.50,12.84V20.11M716.90,12.84H724.10M716.90,20.11H724.10M722.10,12.67V20.45M718.50,12.67H725.70M718.50,20.45H725.70M723.70,12.51V20.79M720.10,12.51H727.30M720.10,20.79H727.30M725.30,12.34V21.14M721.70,12.34H728.90M721.70,21.14H728.90M726.90,12.47V21.48M723.30,12.47H730.50M723.30,21.48H730.50M728.50,12.69V21.78M724.90,12.69H732.10M724.90,21.78H732.10M730.10,12.95V22.08M726.50,12.95H733.70M726.50,22.08H733.70M731.70,13.72V22.38M728.10,13.72H735.30M728.10,22.38H735.30M733.30,14.57V22.68M729.70,14.57H736.90M729.70,22.68H736.90M734.90,15.66V22.98M731.30,15.66H738.50M731.30,22.98H738.50M736.50,16.20V23.38M732.90,16.20H740.10M732.90,23.38H740.10M738.10,16.66V23.78M734.50,16.66H741.70M734.50,23.78H741.70M741.00,15.20V24.50M737.40,15.20H744.60M737.40,24.50H744.60" stroke="#111" stroke-width="1" />
<circle cx="527.20" cy="136.70" r="1.55" fill="#000"/>
<circle cx="559.30" cy="92.20" r="1.55" fill="#000"/>
<circle cx="578.30" cy="62.60" r="1.55" fill="#000"/>
<circle cx="591.80" cy="52.00" r="1.55" fill="#000"/>
<circle cx="600.90" cy="51.20" r="1.55" fill="#000"/>
<circle cx="612.30" cy="49.20" r="1.55" fill="#000"/>
<circle cx="619.80" cy="44.10" r="1.55" fill="#000"/>
<circle cx="625.20" cy="34.30" r="1.55" fill="#000"/>
<circle cx="630.50" cy="28.30" r="1.55" fill="#000"/>
<circle cx="634.20" cy="26.30" r="1.55" fill="#000"/>
<circle cx="638.80" cy="24.00" r="1.55" fill="#000"/>
<circle cx="642.60" cy="22.50" r="1.55" fill="#000"/>
<circle cx="653.00" cy="24.50" r="1.55" fill="#000"/>
<circle cx="657.50" cy="25.00" r="1.55" fill="#000"/>
<circle cx="661.00" cy="25.30" r="1.55" fill="#000"/>
<circle cx="664.50" cy="24.30" r="1.55" fill="#000"/>
<circle cx="668.50" cy="24.00" r="1.55" fill="#000"/>
<circle cx="680.80" cy="23.50" r="1.55" fill="#000"/>
<circle cx="691.80" cy="25.00" r="1.55" fill="#000"/>
<circle cx="699.70" cy="22.50" r="1.55" fill="#000"/>
<circle cx="712.50" cy="18.35" r="1.55" fill="#000"/>
<circle cx="714.10" cy="17.85" r="1.55" fill="#000"/>
<circle cx="715.70" cy="17.51" r="1.55" fill="#000"/>
<circle cx="717.30" cy="17.29" r="1.55" fill="#000"/>
<circle cx="718.90" cy="17.08" r="1.55" fill="#000"/>
<circle cx="720.50" cy="16.97" r="1.55" fill="#000"/>
<circle cx="722.10" cy="17.06" r="1.55" fill="#000"/>
<circle cx="723.70" cy="17.15" r="1.55" fill="#000"/>
<circle cx="725.30" cy="17.24" r="1.55" fill="#000"/>
<circle cx="726.90" cy="17.47" r="1.55" fill="#000"/>
<circle cx="728.50" cy="17.74" r="1.55" fill="#000"/>
<circle cx="730.10" cy="18.01" r="1.55" fill="#000"/>
<circle cx="731.70" cy="18.55" r="1.55" fill="#000"/>
<circle cx="733.30" cy="19.13" r="1.55" fill="#000"/>
<circle cx="734.90" cy="19.82" r="1.55" fill="#000"/>
<circle cx="736.50" cy="20.29" r="1.55" fill="#000"/>
<circle cx="738.10" cy="20.72" r="1.55" fill="#000"/>
<circle cx="741.00" cy="20.50" r="1.55" fill="#000"/>
<path d="M711,17 L714.8,15.4 L719.9,13.7 L725.7,13.1 L730,13.7 L733,15 L736,16.8 L740,18.5 L740,20.5 L733,19.8 L727,19 L720,18.3 L712,17.8 Z" fill="#000"/>
<path d="M527.20,151.21 C527.53,151.30 528.54,151.64 529.21,151.73 C529.88,151.81 530.55,151.80 531.21,151.72 C531.88,151.64 532.55,151.47 533.22,151.24 C533.89,151.00 534.56,150.69 535.23,150.32 C535.90,149.95 536.57,149.50 537.24,149.01 C537.91,148.51 538.58,147.95 539.24,147.35 C539.91,146.75 540.58,146.09 541.25,145.39 C541.92,144.70 542.59,143.95 543.26,143.18 C543.93,142.41 544.60,141.59 545.27,140.75 C545.94,139.91 546.61,139.04 547.27,138.16 C547.94,137.27 548.61,136.35 549.28,135.43 C549.95,134.50 550.62,133.56 551.29,132.60 C551.96,131.65 552.63,130.68 553.30,129.71 C553.97,128.74 554.64,127.76 555.30,126.79 C555.97,125.81 556.64,124.83 557.31,123.86 C557.98,122.89 558.65,121.91 559.32,120.95 C559.99,120.00 560.66,119.04 561.33,118.11 C562.00,117.18 562.67,116.25 563.33,115.35 C564.00,114.45 564.67,113.57 565.34,112.72 C566.01,111.86 566.68,111.03 567.35,110.23 C568.02,109.43 568.69,108.66 569.36,107.93 C570.03,107.20 570.70,106.50 571.36,105.84 C572.03,105.18 572.70,104.55 573.37,103.96 C574.04,103.37 574.71,102.81 575.38,102.28 C576.05,101.75 576.72,101.26 577.39,100.78 C578.06,100.31 578.73,99.86 579.39,99.44 C580.06,99.01 580.73,98.62 581.40,98.24 C582.07,97.86 582.74,97.50 583.41,97.15 C584.08,96.81 584.75,96.49 585.42,96.17 C586.09,95.86 586.76,95.57 587.42,95.28 C588.09,94.99 588.76,94.72 589.43,94.45 C590.10,94.18 590.77,93.92 591.44,93.66 C592.11,93.40 592.78,93.15 593.45,92.90 C594.12,92.65 594.79,92.40 595.45,92.14 C596.12,91.89 596.79,91.64 597.46,91.38 C598.13,91.12 598.80,90.86 599.47,90.58 C600.14,90.31 600.81,90.03 601.48,89.74 C602.15,89.45 602.81,89.15 603.48,88.83 C604.15,88.51 604.82,88.18 605.49,87.83 C606.16,87.48 606.83,87.11 607.50,86.72 C608.17,86.33 608.84,85.92 609.51,85.49 C610.18,85.06 610.84,84.60 611.51,84.12 C612.18,83.64 612.85,83.13 613.52,82.60 C614.19,82.07 614.86,81.52 615.53,80.95 C616.20,80.37 616.87,79.78 617.54,79.16 C618.21,78.55 618.87,77.91 619.54,77.25 C620.21,76.59 620.88,75.91 621.55,75.21 C622.22,74.51 622.89,73.80 623.56,73.06 C624.23,72.32 624.90,71.57 625.57,70.80 C626.24,70.03 626.90,69.23 627.57,68.43 C628.24,67.64 628.91,66.83 629.58,66.03 C630.25,65.24 630.92,64.44 631.59,63.68 C632.26,62.92 632.93,62.17 633.60,61.46 C634.27,60.76 634.93,60.09 635.60,59.46 C636.27,58.83 636.94,58.24 637.61,57.69 C638.28,57.13 638.95,56.62 639.62,56.14 C640.29,55.65 640.96,55.21 641.63,54.80 C642.30,54.38 642.96,54.01 643.63,53.66 C644.30,53.31 644.97,53.00 645.64,52.71 C646.31,52.42 646.98,52.17 647.65,51.94 C648.32,51.71 648.99,51.52 649.66,51.34 C650.33,51.17 650.99,51.02 651.66,50.90 C652.33,50.78 653.00,50.68 653.67,50.61 C654.34,50.53 655.01,50.48 655.68,50.45 C656.35,50.42 657.02,50.41 657.69,50.42 C658.36,50.43 659.02,50.46 659.69,50.50 C660.36,50.55 661.03,50.61 661.70,50.69 C662.37,50.77 663.04,50.87 663.71,50.97 C664.38,51.08 665.05,51.21 665.72,51.34 C666.39,51.47 667.05,51.62 667.72,51.78 C668.39,51.94 669.06,52.11 669.73,52.28 C670.40,52.46 671.07,52.64 671.74,52.83 C672.41,53.02 673.08,53.22 673.75,53.43 C674.41,53.63 675.08,53.84 675.75,54.05 C676.42,54.26 677.09,54.48 677.76,54.69 C678.43,54.91 679.10,55.13 679.77,55.35 C680.44,55.56 681.11,55.78 681.78,55.99 C682.44,56.21 683.11,56.42 683.78,56.63 C684.45,56.84 685.12,57.05 685.79,57.25 C686.46,57.44 687.13,57.64 687.80,57.82 C688.47,58.01 689.14,58.19 689.81,58.36 C690.47,58.53 691.14,58.70 691.81,58.86 C692.48,59.02 693.15,59.18 693.82,59.34 C694.49,59.50 695.16,59.66 695.83,59.82 C696.50,59.99 697.17,60.15 697.84,60.33 C698.50,60.51 699.17,60.69 699.84,60.88 C700.51,61.08 701.18,61.28 701.85,61.50 C702.52,61.72 703.19,61.95 703.86,62.20 C704.53,62.45 705.20,62.71 705.87,63.01 C706.53,63.30 707.20,63.60 707.87,63.94 C708.54,64.27 709.21,64.63 709.88,65.02 C710.55,65.41 711.22,65.82 711.89,66.27 C712.56,66.71 713.23,67.20 713.90,67.70 C714.56,68.20 715.23,68.73 715.90,69.26 C716.57,69.80 717.24,70.36 717.91,70.91 C718.58,71.46 719.25,72.02 719.92,72.56 C720.59,73.11 721.26,73.65 721.93,74.18 C722.59,74.70 723.26,75.20 723.93,75.69 C724.60,76.18 725.27,76.66 725.94,77.13 C726.61,77.61 727.28,78.08 727.95,78.56 C728.62,79.04 729.29,79.51 729.96,80.01 C730.62,80.51 731.29,81.01 731.96,81.54 C732.63,82.07 733.30,82.62 733.97,83.20 C734.64,83.78 735.31,84.39 735.98,85.04 C736.65,85.68 737.32,86.36 737.99,87.10 C738.65,87.83 739.32,88.60 739.99,89.44 C740.66,90.27 741.67,91.66 742.00,92.10" stroke="#EDB120" stroke-width="1.2" stroke-dasharray="8.2 3 1.5 3" stroke-opacity="0.78" />
<path d="M527.20,151.21 C527.53,151.30 528.54,151.63 529.21,151.71 C529.88,151.79 530.55,151.78 531.21,151.69 C531.88,151.61 532.55,151.44 533.22,151.20 C533.89,150.96 534.56,150.65 535.23,150.27 C535.90,149.90 536.57,149.46 537.24,148.96 C537.91,148.47 538.58,147.91 539.24,147.30 C539.91,146.70 540.58,146.04 541.25,145.35 C541.92,144.65 542.59,143.91 543.26,143.14 C543.93,142.36 544.60,141.55 545.27,140.71 C545.94,139.88 546.61,139.01 547.27,138.12 C547.94,137.24 548.61,136.33 549.28,135.40 C549.95,134.48 550.62,133.54 551.29,132.59 C551.96,131.64 552.63,130.67 553.30,129.71 C553.97,128.74 554.64,127.76 555.30,126.79 C555.97,125.82 556.64,124.84 557.31,123.87 C557.98,122.90 558.65,121.93 559.32,120.97 C559.99,120.01 560.66,119.06 561.33,118.13 C562.00,117.20 562.67,116.28 563.33,115.38 C564.00,114.48 564.67,113.60 565.34,112.75 C566.01,111.89 566.68,111.06 567.35,110.26 C568.02,109.46 568.69,108.69 569.36,107.96 C570.03,107.22 570.70,106.52 571.36,105.86 C572.03,105.20 572.70,104.57 573.37,103.98 C574.04,103.38 574.71,102.82 575.38,102.29 C576.05,101.75 576.72,101.25 577.39,100.78 C578.06,100.30 578.73,99.85 579.39,99.43 C580.06,99.00 580.73,98.60 581.40,98.22 C582.07,97.83 582.74,97.48 583.41,97.13 C584.08,96.79 584.75,96.47 585.42,96.16 C586.09,95.85 586.76,95.55 587.42,95.27 C588.09,94.99 588.76,94.72 589.43,94.45 C590.10,94.19 590.77,93.94 591.44,93.69 C592.11,93.45 592.78,93.21 593.45,92.97 C594.12,92.73 594.79,92.50 595.45,92.26 C596.12,92.03 596.79,91.80 597.46,91.56 C598.13,91.32 598.80,91.08 599.47,90.82 C600.14,90.57 600.81,90.31 601.48,90.04 C602.15,89.76 602.81,89.48 603.48,89.17 C604.15,88.86 604.82,88.54 605.49,88.19 C606.16,87.84 606.83,87.47 607.50,87.07 C608.17,86.67 608.84,86.25 609.51,85.79 C610.18,85.34 610.84,84.85 611.51,84.33 C612.18,83.81 612.85,83.25 613.52,82.68 C614.19,82.10 614.86,81.50 615.53,80.87 C616.20,80.25 616.87,79.59 617.54,78.93 C618.21,78.26 618.87,77.57 619.54,76.87 C620.21,76.17 620.88,75.44 621.55,74.71 C622.22,73.99 622.89,73.24 623.56,72.49 C624.23,71.74 624.90,70.98 625.57,70.22 C626.24,69.45 626.90,68.68 627.57,67.92 C628.24,67.15 628.91,66.38 629.58,65.64 C630.25,64.89 630.92,64.15 631.59,63.43 C632.26,62.72 632.93,62.03 633.60,61.37 C634.27,60.71 634.93,60.08 635.60,59.49 C636.27,58.89 636.94,58.33 637.61,57.81 C638.28,57.28 638.95,56.78 639.62,56.32 C640.29,55.86 640.96,55.42 641.63,55.02 C642.30,54.62 642.96,54.25 643.63,53.91 C644.30,53.56 644.97,53.25 645.64,52.96 C646.31,52.68 646.98,52.42 647.65,52.19 C648.32,51.96 648.99,51.76 649.66,51.59 C650.33,51.41 650.99,51.26 651.66,51.14 C652.33,51.01 653.00,50.91 653.67,50.84 C654.34,50.76 655.01,50.71 655.68,50.68 C656.35,50.66 657.02,50.65 657.69,50.67 C658.36,50.69 659.02,50.73 659.69,50.79 C660.36,50.85 661.03,50.93 661.70,51.03 C662.37,51.13 663.04,51.25 663.71,51.39 C664.38,51.53 665.05,51.69 665.72,51.87 C666.39,52.05 667.05,52.24 667.72,52.45 C668.39,52.67 669.06,52.90 669.73,53.14 C670.40,53.39 671.07,53.65 671.74,53.92 C672.41,54.20 673.08,54.49 673.75,54.79 C674.41,55.10 675.08,55.42 675.75,55.75 C676.42,56.08 677.09,56.42 677.76,56.78 C678.43,57.13 679.10,57.50 679.77,57.88 C680.44,58.26 681.11,58.65 681.78,59.05 C682.44,59.44 683.11,59.85 683.78,60.27 C684.45,60.69 685.12,61.12 685.79,61.56 C686.46,62.00 687.13,62.45 687.80,62.91 C688.47,63.36 689.14,63.83 689.81,64.30 C690.47,64.78 691.14,65.26 691.81,65.75 C692.48,66.24 693.15,66.74 693.82,67.25 C694.49,67.75 695.16,68.27 695.83,68.79 C696.50,69.31 697.17,69.84 697.84,70.38 C698.50,70.91 699.17,71.45 699.84,72.00 C700.51,72.55 701.18,73.10 701.85,73.67 C702.52,74.23 703.19,74.79 703.86,75.36 C704.53,75.94 705.20,76.51 705.87,77.09 C706.53,77.68 707.20,78.26 707.87,78.85 C708.54,79.45 709.21,80.04 709.88,80.64 C710.55,81.24 711.22,81.85 711.89,82.45 C712.56,83.06 713.23,83.67 713.90,84.29 C714.56,84.90 715.23,85.52 715.90,86.14 C716.57,86.76 717.24,87.38 717.91,88.00 C718.58,88.63 719.25,89.26 719.92,89.88 C720.59,90.51 721.26,91.14 721.93,91.78 C722.59,92.41 723.26,93.04 723.93,93.68 C724.60,94.31 725.27,94.95 725.94,95.58 C726.61,96.22 727.28,96.85 727.95,97.49 C728.62,98.12 729.29,98.76 729.96,99.40 C730.62,100.03 731.29,100.67 731.96,101.30 C732.63,101.93 733.30,102.57 733.97,103.20 C734.64,103.83 735.31,104.46 735.98,105.09 C736.65,105.72 737.32,106.35 737.99,106.97 C738.65,107.60 739.32,108.22 739.99,108.84 C740.66,109.46 741.67,110.38 742.00,110.69" stroke="#7E2F8E" stroke-width="1.2" stroke-dasharray="9 6.8" stroke-opacity="0.78" />
<path d="M657.50,237.00 C657.84,235.28 658.86,229.98 659.54,226.69 C660.23,223.40 660.91,220.27 661.59,217.25 C662.27,214.22 662.95,211.34 663.63,208.54 C664.31,205.75 664.99,203.07 665.68,200.46 C666.36,197.85 667.04,195.34 667.72,192.87 C668.40,190.41 669.08,188.02 669.76,185.66 C670.44,183.31 671.13,180.98 671.81,178.74 C672.49,176.51 673.17,174.32 673.85,172.25 C674.53,170.18 675.21,168.21 675.90,166.34 C676.58,164.48 677.26,162.71 677.94,161.04 C678.62,159.37 679.30,157.80 679.98,156.31 C680.66,154.82 681.35,153.44 682.03,152.10 C682.71,150.76 683.39,149.51 684.07,148.27 C684.75,147.03 685.43,145.86 686.11,144.68 C686.80,143.50 687.48,142.35 688.16,141.17 C688.84,139.99 689.52,138.83 690.20,137.60 C690.88,136.38 691.57,135.12 692.25,133.83 C692.93,132.53 693.61,131.16 694.29,129.85 C694.97,128.53 695.65,127.17 696.33,125.92 C697.02,124.67 697.70,123.44 698.38,122.35 C699.06,121.25 699.74,120.25 700.42,119.35 C701.10,118.46 701.78,117.67 702.47,116.97 C703.15,116.27 703.83,115.68 704.51,115.15 C705.19,114.63 705.87,114.20 706.55,113.84 C707.23,113.47 707.92,113.19 708.60,112.97 C709.28,112.75 709.96,112.60 710.64,112.51 C711.32,112.41 712.00,112.38 712.69,112.39 C713.37,112.40 714.05,112.47 714.73,112.57 C715.41,112.67 716.09,112.82 716.77,112.99 C717.45,113.16 718.14,113.37 718.82,113.59 C719.50,113.82 720.18,114.08 720.86,114.34 C721.54,114.60 722.22,114.89 722.90,115.17 C723.59,115.45 724.27,115.74 724.95,116.03 C725.63,116.31 726.31,116.60 726.99,116.86 C727.67,117.13 728.36,117.39 729.04,117.62 C729.72,117.86 730.40,118.05 731.08,118.26 C731.76,118.48 732.44,118.63 733.12,118.92 C733.81,119.21 734.49,119.50 735.17,119.99 C735.85,120.49 736.53,121.06 737.21,121.90 C737.89,122.75 738.57,123.73 739.26,125.06 C739.94,126.39 740.96,129.08 741.30,129.89" stroke="#77AC30" stroke-width="1.1" stroke-dasharray="1.1 2.75" stroke-opacity="0.8" />
<path d="M526.90,184.50 C527.15,184.62 527.91,185.20 528.41,185.24 C528.91,185.28 529.42,185.05 529.92,184.72 C530.42,184.38 530.92,183.83 531.43,183.21 C531.93,182.59 532.43,181.81 532.94,181.01 C533.44,180.21 533.94,179.29 534.45,178.39 C534.95,177.50 535.45,176.54 535.95,175.65 C536.46,174.76 536.96,173.89 537.46,173.05 C537.97,172.21 538.47,171.45 538.97,170.61 C539.48,169.77 539.98,168.96 540.48,168.02 C540.99,167.07 541.49,166.08 541.99,164.95 C542.49,163.81 543.00,162.52 543.50,161.19 C544.00,159.86 544.51,158.40 545.01,156.98 C545.51,155.56 546.02,154.07 546.52,152.66 C547.02,151.25 547.53,149.86 548.03,148.52 C548.53,147.18 549.03,145.88 549.54,144.60 C550.04,143.32 550.54,142.08 551.05,140.84 C551.55,139.60 552.05,138.39 552.56,137.17 C553.06,135.95 553.56,134.74 554.06,133.52 C554.57,132.29 555.07,131.08 555.57,129.83 C556.08,128.58 556.58,127.32 557.08,126.04 C557.59,124.75 558.09,123.40 558.59,122.09 C559.10,120.79 559.60,119.43 560.10,118.18 C560.60,116.92 561.11,115.70 561.61,114.57 C562.11,113.43 562.62,112.39 563.12,111.39 C563.62,110.40 564.13,109.47 564.63,108.57 C565.13,107.68 565.63,106.83 566.14,106.00 C566.64,105.16 567.14,104.36 567.65,103.55 C568.15,102.73 568.65,101.94 569.16,101.11 C569.66,100.29 570.16,99.46 570.67,98.59 C571.17,97.73 571.67,96.84 572.17,95.94 C572.68,95.04 573.18,94.11 573.68,93.20 C574.19,92.28 574.69,91.35 575.19,90.44 C575.70,89.53 576.20,88.62 576.70,87.74 C577.21,86.86 577.71,85.99 578.21,85.16 C578.71,84.32 579.22,83.52 579.72,82.74 C580.22,81.97 580.73,81.23 581.23,80.51 C581.73,79.79 582.24,79.10 582.74,78.44 C583.24,77.77 583.74,77.13 584.25,76.52 C584.75,75.90 585.25,75.31 585.76,74.74 C586.26,74.18 586.76,73.64 587.27,73.14 C587.77,72.63 588.27,72.16 588.78,71.72 C589.28,71.29 589.78,70.89 590.28,70.54 C590.79,70.19 591.29,69.88 591.79,69.63 C592.30,69.37 592.80,69.16 593.30,69.01 C593.81,68.85 594.31,68.76 594.81,68.71 C595.32,68.66 595.82,68.67 596.32,68.70 C596.82,68.73 597.33,68.81 597.83,68.90 C598.33,68.99 598.84,69.12 599.34,69.25 C599.84,69.38 600.35,69.53 600.85,69.68 C601.35,69.83 601.85,69.98 602.36,70.13 C602.86,70.27 603.36,70.42 603.87,70.54 C604.37,70.66 604.87,70.77 605.38,70.85 C605.88,70.93 606.38,70.99 606.89,71.01 C607.39,71.02 607.89,71.01 608.39,70.95 C608.90,70.89 609.40,70.79 609.90,70.64 C610.41,70.49 610.91,70.31 611.41,70.07 C611.92,69.84 612.42,69.57 612.92,69.25 C613.42,68.93 613.93,68.57 614.43,68.17 C614.93,67.77 615.44,67.33 615.94,66.84 C616.44,66.35 616.95,65.83 617.45,65.26 C617.95,64.69 618.46,64.08 618.96,63.42 C619.46,62.77 619.96,62.08 620.47,61.34 C620.97,60.61 621.47,59.82 621.98,59.02 C622.48,58.22 622.98,57.37 623.49,56.55 C623.99,55.73 624.49,54.88 625.00,54.08 C625.50,53.29 626.00,52.50 626.50,51.79 C627.01,51.08 627.51,50.41 628.01,49.83 C628.52,49.24 629.02,48.73 629.52,48.28 C630.03,47.83 630.53,47.45 631.03,47.11 C631.53,46.77 632.04,46.49 632.54,46.24 C633.04,46.00 633.55,45.80 634.05,45.63 C634.55,45.46 635.06,45.33 635.56,45.21 C636.06,45.10 636.57,45.02 637.07,44.94 C637.57,44.87 638.07,44.82 638.58,44.77 C639.08,44.72 639.58,44.69 640.09,44.65 C640.59,44.61 641.09,44.58 641.60,44.55 C642.10,44.52 642.60,44.48 643.10,44.47 C643.61,44.46 644.11,44.46 644.61,44.49 C645.12,44.52 645.62,44.57 646.12,44.66 C646.63,44.76 647.13,44.88 647.63,45.06 C648.14,45.24 648.64,45.46 649.14,45.74 C649.64,46.01 650.15,46.36 650.65,46.71 C651.15,47.07 651.66,47.48 652.16,47.89 C652.66,48.30 653.17,48.74 653.67,49.15 C654.17,49.57 654.68,50.00 655.18,50.39 C655.68,50.78 656.18,51.17 656.69,51.50 C657.19,51.83 657.69,52.13 658.20,52.36 C658.70,52.58 659.20,52.77 659.71,52.86 C660.21,52.94 660.71,52.97 661.21,52.89 C661.72,52.80 662.22,52.61 662.72,52.34 C663.23,52.07 663.73,51.61 664.23,51.29 C664.74,50.96 665.24,50.54 665.74,50.39 C666.25,50.25 666.75,50.23 667.25,50.42 C667.75,50.60 668.26,51.09 668.76,51.49 C669.26,51.89 669.77,52.48 670.27,52.82 C670.77,53.16 671.28,53.49 671.78,53.55 C672.28,53.61 672.78,53.42 673.29,53.18 C673.79,52.93 674.29,52.49 674.80,52.08 C675.30,51.67 675.80,51.16 676.31,50.73 C676.81,50.30 677.31,49.87 677.82,49.50 C678.32,49.14 678.82,48.80 679.32,48.52 C679.83,48.25 680.33,48.01 680.83,47.85 C681.34,47.69 681.84,47.61 682.34,47.56 C682.85,47.52 683.35,47.55 683.85,47.58 C684.36,47.61 684.86,47.69 685.36,47.74 C685.86,47.78 686.37,47.85 686.87,47.85 C687.37,47.86 687.88,47.85 688.38,47.75 C688.88,47.66 689.39,47.49 689.89,47.28 C690.39,47.07 690.89,46.78 691.40,46.47 C691.90,46.16 692.40,45.79 692.91,45.43 C693.41,45.06 693.91,44.66 694.42,44.28 C694.92,43.89 695.42,43.49 695.93,43.10 C696.43,42.70 696.93,42.31 697.43,41.91 C697.94,41.50 698.44,41.10 698.94,40.69 C699.45,40.28 699.95,39.87 700.45,39.45 C700.96,39.03 701.46,38.61 701.96,38.19 C702.47,37.77 702.97,37.34 703.47,36.92 C703.97,36.50 704.48,36.07 704.98,35.66 C705.48,35.24 705.99,34.83 706.49,34.43 C706.99,34.02 707.50,33.62 708.00,33.24 C708.50,32.85 709.00,32.47 709.51,32.10 C710.01,31.74 710.51,31.38 711.02,31.05 C711.52,30.71 712.02,30.39 712.53,30.08 C713.03,29.77 713.53,29.48 714.04,29.20 C714.54,28.92 715.04,28.66 715.54,28.41 C716.05,28.16 716.55,27.92 717.05,27.70 C717.56,27.48 718.06,27.28 718.56,27.09 C719.07,26.90 719.57,26.72 720.07,26.56 C720.57,26.40 721.08,26.25 721.58,26.11 C722.08,25.98 722.59,25.86 723.09,25.76 C723.59,25.65 724.10,25.56 724.60,25.49 C725.10,25.41 725.61,25.35 726.11,25.31 C726.61,25.26 727.11,25.23 727.62,25.21 C728.12,25.19 728.62,25.19 729.13,25.20 C729.63,25.21 730.13,25.24 730.64,25.28 C731.14,25.32 731.64,25.37 732.15,25.44 C732.65,25.52 733.15,25.60 733.65,25.70 C734.16,25.80 734.66,25.91 735.16,26.04 C735.67,26.17 736.17,26.31 736.67,26.47 C737.18,26.63 737.68,26.81 738.18,26.99 C738.68,27.18 739.19,27.39 739.69,27.60 C740.19,27.82 740.95,28.19 741.20,28.30" stroke="#595959" stroke-width="1" />
<path d="M527.20,108.40 C527.53,108.22 528.54,107.71 529.20,107.33 C529.87,106.95 530.54,106.55 531.21,106.13 C531.88,105.71 532.54,105.27 533.21,104.82 C533.88,104.37 534.55,103.89 535.21,103.41 C535.88,102.92 536.55,102.42 537.22,101.90 C537.89,101.39 538.55,100.86 539.22,100.32 C539.89,99.78 540.56,99.22 541.23,98.66 C541.89,98.09 542.56,97.51 543.23,96.93 C543.90,96.34 544.57,95.75 545.23,95.15 C545.90,94.55 546.57,93.93 547.24,93.32 C547.91,92.70 548.57,92.08 549.24,91.45 C549.91,90.83 550.58,90.19 551.24,89.56 C551.91,88.92 552.58,88.29 553.25,87.65 C553.92,87.01 554.58,86.37 555.25,85.73 C555.92,85.08 556.59,84.44 557.26,83.80 C557.92,83.16 558.59,82.52 559.26,81.89 C559.93,81.26 560.60,80.62 561.26,79.99 C561.93,79.37 562.60,78.74 563.27,78.13 C563.94,77.51 564.60,76.90 565.27,76.30 C565.94,75.69 566.61,75.10 567.27,74.51 C567.94,73.93 568.61,73.35 569.28,72.78 C569.95,72.21 570.61,71.65 571.28,71.10 C571.95,70.54 572.62,70.00 573.29,69.46 C573.95,68.93 574.62,68.40 575.29,67.88 C575.96,67.36 576.63,66.85 577.29,66.35 C577.96,65.85 578.63,65.35 579.30,64.87 C579.97,64.38 580.63,63.91 581.30,63.44 C581.97,62.97 582.64,62.51 583.30,62.05 C583.97,61.60 584.64,61.16 585.31,60.72 C585.98,60.28 586.64,59.85 587.31,59.43 C587.98,59.01 588.65,58.60 589.32,58.20 C589.98,57.79 590.65,57.39 591.32,57.01 C591.99,56.62 592.66,56.23 593.32,55.86 C593.99,55.48 594.66,55.11 595.33,54.74 C596.00,54.38 596.66,54.02 597.33,53.66 C598.00,53.30 598.67,52.94 599.33,52.59 C600.00,52.23 600.67,51.88 601.34,51.53 C602.01,51.18 602.67,50.83 603.34,50.48 C604.01,50.12 604.68,49.77 605.35,49.42 C606.01,49.06 606.68,48.71 607.35,48.35 C608.02,47.98 608.69,47.62 609.35,47.25 C610.02,46.88 610.69,46.51 611.36,46.13 C612.02,45.75 612.69,45.37 613.36,44.97 C614.03,44.58 614.70,44.18 615.36,43.77 C616.03,43.36 616.70,42.94 617.37,42.52 C618.04,42.09 618.70,41.65 619.37,41.20 C620.04,40.75 620.71,40.29 621.38,39.82 C622.04,39.35 622.71,38.86 623.38,38.36 C624.05,37.87 624.72,37.36 625.38,36.84 C626.05,36.33 626.72,35.81 627.39,35.28 C628.05,34.76 628.72,34.23 629.39,33.70 C630.06,33.17 630.73,32.64 631.39,32.11 C632.06,31.58 632.73,31.05 633.40,30.53 C634.07,30.01 634.73,29.49 635.40,28.99 C636.07,28.48 636.74,27.98 637.41,27.49 C638.07,27.01 638.74,26.53 639.41,26.07 C640.08,25.61 640.75,25.16 641.41,24.73 C642.08,24.31 642.75,23.89 643.42,23.51 C644.08,23.12 644.75,22.75 645.42,22.40 C646.09,22.05 646.76,21.73 647.42,21.43 C648.09,21.13 648.76,20.86 649.43,20.61 C650.10,20.36 650.76,20.14 651.43,19.93 C652.10,19.72 652.77,19.54 653.44,19.37 C654.10,19.20 654.77,19.05 655.44,18.91 C656.11,18.76 656.78,18.64 657.44,18.52 C658.11,18.40 658.78,18.29 659.45,18.19 C660.11,18.09 660.78,17.99 661.45,17.90 C662.12,17.81 662.79,17.72 663.45,17.64 C664.12,17.57 664.79,17.49 665.46,17.42 C666.13,17.36 666.79,17.29 667.46,17.23 C668.13,17.18 668.80,17.12 669.47,17.08 C670.13,17.03 670.80,16.98 671.47,16.94 C672.14,16.91 672.80,16.87 673.47,16.84 C674.14,16.81 674.81,16.78 675.48,16.76 C676.14,16.74 676.81,16.72 677.48,16.70 C678.15,16.69 678.82,16.68 679.48,16.67 C680.15,16.66 680.82,16.66 681.49,16.65 C682.16,16.65 682.82,16.65 683.49,16.65 C684.16,16.66 684.83,16.66 685.50,16.67 C686.16,16.68 686.83,16.69 687.50,16.70 C688.17,16.72 688.83,16.73 689.50,16.75 C690.17,16.77 690.84,16.79 691.51,16.82 C692.17,16.84 692.84,16.87 693.51,16.90 C694.18,16.93 694.85,16.97 695.51,17.01 C696.18,17.04 696.85,17.09 697.52,17.13 C698.19,17.17 698.85,17.22 699.52,17.27 C700.19,17.33 700.86,17.38 701.53,17.44 C702.19,17.50 702.86,17.56 703.53,17.63 C704.20,17.70 704.86,17.77 705.53,17.84 C706.20,17.92 706.87,18.00 707.54,18.08 C708.20,18.16 708.87,18.25 709.54,18.34 C710.21,18.44 710.88,18.53 711.54,18.63 C712.21,18.73 712.88,18.84 713.55,18.95 C714.22,19.06 714.88,19.17 715.55,19.29 C716.22,19.41 716.89,19.54 717.56,19.67 C718.22,19.80 718.89,19.93 719.56,20.07 C720.23,20.21 720.89,20.35 721.56,20.50 C722.23,20.65 722.90,20.81 723.57,20.97 C724.23,21.13 724.90,21.29 725.57,21.46 C726.24,21.63 726.91,21.81 727.57,21.99 C728.24,22.18 728.91,22.36 729.58,22.56 C730.25,22.75 730.91,22.95 731.58,23.16 C732.25,23.36 732.92,23.57 733.59,23.79 C734.25,24.01 734.92,24.23 735.59,24.46 C736.26,24.69 736.92,24.93 737.59,25.17 C738.26,25.42 738.93,25.66 739.60,25.92 C740.26,26.18 741.27,26.58 741.60,26.71" stroke="#D95319" stroke-width="2" stroke-linejoin="round" />
<path d="M527.20,100.40 C527.53,100.28 528.54,99.95 529.20,99.69 C529.87,99.42 530.54,99.13 531.21,98.81 C531.88,98.49 532.54,98.14 533.21,97.77 C533.88,97.40 534.55,97.01 535.21,96.59 C535.88,96.18 536.55,95.74 537.22,95.29 C537.89,94.84 538.55,94.36 539.22,93.88 C539.89,93.39 540.56,92.89 541.23,92.37 C541.89,91.85 542.56,91.32 543.23,90.78 C543.90,90.24 544.57,89.69 545.23,89.13 C545.90,88.57 546.57,88.00 547.24,87.43 C547.91,86.86 548.57,86.27 549.24,85.69 C549.91,85.11 550.58,84.52 551.24,83.94 C551.91,83.35 552.58,82.76 553.25,82.18 C553.92,81.60 554.58,81.01 555.25,80.43 C555.92,79.86 556.59,79.28 557.26,78.71 C557.92,78.15 558.59,77.59 559.26,77.04 C559.93,76.49 560.60,75.94 561.26,75.42 C561.93,74.89 562.60,74.37 563.27,73.86 C563.94,73.36 564.60,72.86 565.27,72.37 C565.94,71.88 566.61,71.41 567.27,70.93 C567.94,70.46 568.61,70.00 569.28,69.54 C569.95,69.08 570.61,68.63 571.28,68.19 C571.95,67.74 572.62,67.30 573.29,66.86 C573.95,66.42 574.62,65.98 575.29,65.55 C575.96,65.12 576.63,64.68 577.29,64.25 C577.96,63.82 578.63,63.39 579.30,62.96 C579.97,62.53 580.63,62.09 581.30,61.66 C581.97,61.23 582.64,60.80 583.30,60.37 C583.97,59.94 584.64,59.51 585.31,59.09 C585.98,58.66 586.64,58.24 587.31,57.83 C587.98,57.42 588.65,57.01 589.32,56.61 C589.98,56.21 590.65,55.81 591.32,55.43 C591.99,55.04 592.66,54.66 593.32,54.29 C593.99,53.91 594.66,53.54 595.33,53.17 C596.00,52.81 596.66,52.44 597.33,52.08 C598.00,51.72 598.67,51.36 599.33,51.00 C600.00,50.64 600.67,50.28 601.34,49.91 C602.01,49.55 602.67,49.19 603.34,48.82 C604.01,48.45 604.68,48.08 605.35,47.71 C606.01,47.33 606.68,46.95 607.35,46.57 C608.02,46.18 608.69,45.79 609.35,45.40 C610.02,45.01 610.69,44.61 611.36,44.21 C612.02,43.81 612.69,43.40 613.36,43.00 C614.03,42.59 614.70,42.18 615.36,41.77 C616.03,41.36 616.70,40.94 617.37,40.53 C618.04,40.11 618.70,39.70 619.37,39.28 C620.04,38.86 620.71,38.44 621.38,38.02 C622.04,37.60 622.71,37.18 623.38,36.76 C624.05,36.34 624.72,35.92 625.38,35.50 C626.05,35.08 626.72,34.66 627.39,34.24 C628.05,33.82 628.72,33.39 629.39,32.97 C630.06,32.55 630.73,32.12 631.39,31.70 C632.06,31.27 632.73,30.85 633.40,30.42 C634.07,30.00 634.73,29.57 635.40,29.15 C636.07,28.73 636.74,28.31 637.41,27.90 C638.07,27.49 638.74,27.08 639.41,26.69 C640.08,26.29 640.75,25.90 641.41,25.52 C642.08,25.15 642.75,24.78 643.42,24.43 C644.08,24.08 644.75,23.74 645.42,23.41 C646.09,23.09 646.76,22.78 647.42,22.50 C648.09,22.21 648.76,21.94 649.43,21.69 C650.10,21.44 650.76,21.21 651.43,21.00 C652.10,20.79 652.77,20.59 653.44,20.41 C654.10,20.23 654.77,20.07 655.44,19.92 C656.11,19.77 656.78,19.63 657.44,19.51 C658.11,19.39 658.78,19.28 659.45,19.18 C660.11,19.08 660.78,18.99 661.45,18.91 C662.12,18.83 662.79,18.76 663.45,18.69 C664.12,18.63 664.79,18.58 665.46,18.53 C666.13,18.48 666.79,18.43 667.46,18.39 C668.13,18.35 668.80,18.32 669.47,18.29 C670.13,18.25 670.80,18.23 671.47,18.20 C672.14,18.17 672.80,18.14 673.47,18.12 C674.14,18.09 674.81,18.06 675.48,18.04 C676.14,18.01 676.81,17.99 677.48,17.97 C678.15,17.94 678.82,17.92 679.48,17.90 C680.15,17.88 680.82,17.86 681.49,17.84 C682.16,17.83 682.82,17.81 683.49,17.79 C684.16,17.78 684.83,17.76 685.50,17.75 C686.16,17.74 686.83,17.73 687.50,17.72 C688.17,17.71 688.83,17.70 689.50,17.70 C690.17,17.69 690.84,17.69 691.51,17.69 C692.17,17.68 692.84,17.68 693.51,17.68 C694.18,17.69 694.85,17.69 695.51,17.70 C696.18,17.70 696.85,17.71 697.52,17.72 C698.19,17.73 698.85,17.74 699.52,17.76 C700.19,17.77 700.86,17.79 701.53,17.81 C702.19,17.83 702.86,17.85 703.53,17.88 C704.20,17.91 704.86,17.93 705.53,17.96 C706.20,18.00 706.87,18.03 707.54,18.07 C708.20,18.10 708.87,18.14 709.54,18.19 C710.21,18.23 710.88,18.28 711.54,18.32 C712.21,18.37 712.88,18.43 713.55,18.48 C714.22,18.54 714.88,18.60 715.55,18.66 C716.22,18.73 716.89,18.79 717.56,18.86 C718.22,18.93 718.89,19.01 719.56,19.09 C720.23,19.17 720.89,19.25 721.56,19.33 C722.23,19.42 722.90,19.51 723.57,19.61 C724.23,19.70 724.90,19.80 725.57,19.90 C726.24,20.01 726.91,20.11 727.57,20.23 C728.24,20.34 728.91,20.45 729.58,20.58 C730.25,20.70 730.91,20.82 731.58,20.95 C732.25,21.08 732.92,21.22 733.59,21.36 C734.25,21.50 734.92,21.65 735.59,21.80 C736.26,21.95 736.92,22.10 737.59,22.26 C738.26,22.43 738.93,22.59 739.60,22.76 C740.26,22.94 741.27,23.21 741.60,23.30" stroke="#EDB120" stroke-width="2" stroke-linejoin="round" />
<path d="M527.20,139.10 C527.53,139.01 528.54,138.82 529.20,138.59 C529.87,138.36 530.54,138.06 531.21,137.71 C531.88,137.35 532.54,136.93 533.21,136.46 C533.88,136.00 534.55,135.47 535.21,134.89 C535.88,134.32 536.55,133.69 537.22,133.02 C537.89,132.35 538.55,131.62 539.22,130.86 C539.89,130.10 540.56,129.30 541.23,128.45 C541.89,127.61 542.56,126.73 543.23,125.82 C543.90,124.91 544.57,123.95 545.23,122.98 C545.90,122.01 546.57,121.00 547.24,119.99 C547.91,118.99 548.57,117.95 549.24,116.93 C549.91,115.90 550.58,114.87 551.24,113.85 C551.91,112.83 552.58,111.82 553.25,110.83 C553.92,109.84 554.58,108.86 555.25,107.90 C555.92,106.93 556.59,105.98 557.26,105.05 C557.92,104.11 558.59,103.19 559.26,102.28 C559.93,101.37 560.60,100.48 561.26,99.60 C561.93,98.72 562.60,97.85 563.27,96.99 C563.94,96.14 564.60,95.29 565.27,94.46 C565.94,93.63 566.61,92.81 567.27,92.00 C567.94,91.20 568.61,90.40 569.28,89.62 C569.95,88.83 570.61,88.06 571.28,87.30 C571.95,86.54 572.62,85.79 573.29,85.05 C573.95,84.31 574.62,83.58 575.29,82.86 C575.96,82.14 576.63,81.44 577.29,80.74 C577.96,80.04 578.63,79.35 579.30,78.67 C579.97,77.99 580.63,77.32 581.30,76.66 C581.97,76.00 582.64,75.35 583.30,74.70 C583.97,74.06 584.64,73.42 585.31,72.79 C585.98,72.16 586.64,71.53 587.31,70.92 C587.98,70.30 588.65,69.69 589.32,69.08 C589.98,68.47 590.65,67.87 591.32,67.27 C591.99,66.68 592.66,66.08 593.32,65.49 C593.99,64.90 594.66,64.31 595.33,63.73 C596.00,63.14 596.66,62.56 597.33,61.98 C598.00,61.40 598.67,60.82 599.33,60.24 C600.00,59.66 600.67,59.09 601.34,58.51 C602.01,57.93 602.67,57.35 603.34,56.77 C604.01,56.19 604.68,55.61 605.35,55.03 C606.01,54.44 606.68,53.86 607.35,53.27 C608.02,52.68 608.69,52.09 609.35,51.50 C610.02,50.90 610.69,50.30 611.36,49.70 C612.02,49.09 612.69,48.49 613.36,47.87 C614.03,47.26 614.70,46.64 615.36,46.02 C616.03,45.40 616.70,44.77 617.37,44.14 C618.04,43.51 618.70,42.87 619.37,42.24 C620.04,41.60 620.71,40.96 621.38,40.32 C622.04,39.68 622.71,39.04 623.38,38.40 C624.05,37.76 624.72,37.11 625.38,36.47 C626.05,35.83 626.72,35.19 627.39,34.55 C628.05,33.91 628.72,33.27 629.39,32.64 C630.06,32.00 630.73,31.37 631.39,30.74 C632.06,30.11 632.73,29.49 633.40,28.87 C634.07,28.26 634.73,27.65 635.40,27.05 C636.07,26.46 636.74,25.87 637.41,25.30 C638.07,24.73 638.74,24.18 639.41,23.65 C640.08,23.12 640.75,22.60 641.41,22.11 C642.08,21.63 642.75,21.17 643.42,20.74 C644.08,20.31 644.75,19.91 645.42,19.55 C646.09,19.18 646.76,18.85 647.42,18.57 C648.09,18.29 648.76,18.05 649.43,17.84 C650.10,17.63 650.76,17.47 651.43,17.32 C652.10,17.17 652.77,17.05 653.44,16.93 C654.10,16.81 654.77,16.71 655.44,16.60 C656.11,16.50 656.78,16.40 657.44,16.31 C658.11,16.21 658.78,16.13 659.45,16.05 C660.11,15.96 660.78,15.89 661.45,15.82 C662.12,15.75 662.79,15.69 663.45,15.63 C664.12,15.58 664.79,15.53 665.46,15.48 C666.13,15.44 666.79,15.40 667.46,15.36 C668.13,15.33 668.80,15.31 669.47,15.28 C670.13,15.26 670.80,15.25 671.47,15.24 C672.14,15.23 672.80,15.23 673.47,15.23 C674.14,15.24 674.81,15.25 675.48,15.26 C676.14,15.28 676.81,15.30 677.48,15.32 C678.15,15.35 678.82,15.38 679.48,15.42 C680.15,15.46 680.82,15.51 681.49,15.56 C682.16,15.61 682.82,15.67 683.49,15.73 C684.16,15.79 684.83,15.86 685.50,15.94 C686.16,16.01 686.83,16.09 687.50,16.18 C688.17,16.27 688.83,16.36 689.50,16.46 C690.17,16.56 690.84,16.66 691.51,16.77 C692.17,16.88 692.84,16.99 693.51,17.11 C694.18,17.23 694.85,17.35 695.51,17.48 C696.18,17.61 696.85,17.74 697.52,17.88 C698.19,18.02 698.85,18.16 699.52,18.31 C700.19,18.46 700.86,18.61 701.53,18.77 C702.19,18.93 702.86,19.09 703.53,19.25 C704.20,19.42 704.86,19.59 705.53,19.76 C706.20,19.93 706.87,20.11 707.54,20.29 C708.20,20.47 708.87,20.66 709.54,20.85 C710.21,21.04 710.88,21.23 711.54,21.42 C712.21,21.62 712.88,21.82 713.55,22.02 C714.22,22.22 714.88,22.43 715.55,22.64 C716.22,22.85 716.89,23.06 717.56,23.27 C718.22,23.49 718.89,23.70 719.56,23.92 C720.23,24.14 720.89,24.37 721.56,24.59 C722.23,24.82 722.90,25.04 723.57,25.27 C724.23,25.50 724.90,25.74 725.57,25.97 C726.24,26.21 726.91,26.44 727.57,26.68 C728.24,26.92 728.91,27.16 729.58,27.40 C730.25,27.64 730.91,27.89 731.58,28.13 C732.25,28.38 732.92,28.62 733.59,28.87 C734.25,29.12 734.92,29.37 735.59,29.62 C736.26,29.87 736.92,30.12 737.59,30.37 C738.26,30.63 738.93,30.88 739.60,31.14 C740.26,31.39 741.27,31.77 741.60,31.90" stroke="#0072BD" stroke-width="2" stroke-linejoin="round" />
</g>
<path d="M44.55,181.99h3M280.90,181.99h-3M44.55,109.81h3M280.90,109.81h-3M44.55,55.20h3M280.90,55.20h-3M44.55,150.05h1.8M280.90,150.05h-1.8M44.55,127.39h1.8M280.90,127.39h-1.8M44.55,95.44h1.8M280.90,95.44h-1.8M44.55,83.30h1.8M280.90,83.30h-1.8M44.55,72.78h1.8M280.90,72.78h-1.8M44.55,63.50h1.8M280.90,63.50h-1.8M51.82,237.00v-1.80M51.82,0.60v1.80M64.01,237.00v-1.80M64.01,0.60v1.80M74.56,237.00v-1.80M74.56,0.60v1.80M83.87,237.00v-1.80M83.87,0.60v1.80M92.20,237.00v-3.00M92.20,0.60v3.00M146.99,237.00v-1.80M146.99,0.60v1.80M179.04,237.00v-1.80M179.04,0.60v1.80M201.77,237.00v-1.80M201.77,0.60v1.80M219.41,237.00v-1.80M219.41,0.60v1.80M233.82,237.00v-1.80M233.82,0.60v1.80M246.01,237.00v-1.80M246.01,0.60v1.80M256.56,237.00v-1.80M256.56,0.60v1.80M265.87,237.00v-1.80M265.87,0.60v1.80M274.20,237.00v-3.00M274.20,0.60v3.00" stroke="#404040" stroke-width="0.8" fill="none"/>
<rect x="44.55" y="0.60" width="236.35" height="236.40" fill="none" stroke="#404040" stroke-width="1"/>
<path d="M280.90,181.99h3M516.35,181.99h-3M280.90,109.81h3M516.35,109.81h-3M280.90,55.20h3M516.35,55.20h-3M280.90,150.05h1.8M516.35,150.05h-1.8M280.90,127.39h1.8M516.35,127.39h-1.8M280.90,95.44h1.8M516.35,95.44h-1.8M280.90,83.30h1.8M516.35,83.30h-1.8M280.90,72.78h1.8M516.35,72.78h-1.8M280.90,63.50h1.8M516.35,63.50h-1.8M316.59,237.00v-1.80M316.59,0.60v1.80M357.00,237.00v-1.80M357.00,0.60v1.80M385.67,237.00v-1.80M385.67,0.60v1.80M407.91,237.00v-1.80M407.91,0.60v1.80M426.09,237.00v-1.80M426.09,0.60v1.80M441.45,237.00v-1.80M441.45,0.60v1.80M454.76,237.00v-1.80M454.76,0.60v1.80M466.50,237.00v-1.80M466.50,0.60v1.80M477.00,237.00v-3.00M477.00,0.60v3.00" stroke="#404040" stroke-width="0.8" fill="none"/>
<rect x="280.90" y="0.60" width="235.45" height="236.40" fill="none" stroke="#404040" stroke-width="1"/>
<path d="M516.35,181.99h3M752.30,181.99h-3M516.35,109.81h3M752.30,109.81h-3M516.35,55.20h3M752.30,55.20h-3M516.35,150.05h1.8M752.30,150.05h-1.8M516.35,127.39h1.8M752.30,127.39h-1.8M516.35,95.44h1.8M752.30,95.44h-1.8M516.35,83.30h1.8M752.30,83.30h-1.8M516.35,72.78h1.8M752.30,72.78h-1.8M516.35,63.50h1.8M752.30,63.50h-1.8M521.26,237.00v-1.80M521.26,0.60v1.80M535.13,237.00v-1.80M535.13,0.60v1.80M545.89,237.00v-1.80M545.89,0.60v1.80M554.67,237.00v-1.80M554.67,0.60v1.80M562.11,237.00v-1.80M562.11,0.60v1.80M568.54,237.00v-1.80M568.54,0.60v1.80M574.22,237.00v-1.80M574.22,0.60v1.80M579.30,237.00v-3.00M579.30,0.60v3.00M612.71,237.00v-1.80M612.71,0.60v1.80M632.26,237.00v-1.80M632.26,0.60v1.80M646.13,237.00v-1.80M646.13,0.60v1.80M656.89,237.00v-1.80M656.89,0.60v1.80M665.67,237.00v-1.80M665.67,0.60v1.80M673.11,237.00v-1.80M673.11,0.60v1.80M679.54,237.00v-1.80M679.54,0.60v1.80M685.22,237.00v-1.80M685.22,0.60v1.80M690.30,237.00v-3.00M690.30,0.60v3.00M723.71,237.00v-1.80M723.71,0.60v1.80M743.26,237.00v-1.80M743.26,0.60v1.80" stroke="#404040" stroke-width="0.8" fill="none"/>
<rect x="516.35" y="0.60" width="235.95" height="236.40" fill="none" stroke="#404040" stroke-width="1"/>
<text x="39.90" y="60.20" font-size="12.50" font-family="'Liberation Sans', sans-serif" text-anchor="end" fill="#262626">100</text>
<text x="39.90" y="114.81" font-size="12.50" font-family="'Liberation Sans', sans-serif" text-anchor="end" fill="#262626">50</text>
<text x="39.90" y="186.99" font-size="12.50" font-family="'Liberation Sans', sans-serif" text-anchor="end" fill="#262626">20</text>
<text x="82.00" y="258.9" font-size="12.5" font-family="'Liberation Sans', sans-serif" fill="#262626">10<tspan font-size="9.5" dy="-6.5">3</tspan></text>
<text x="264.00" y="258.9" font-size="12.5" font-family="'Liberation Sans', sans-serif" fill="#262626">10<tspan font-size="9.5" dy="-6.5">4</tspan></text>
<text x="466.80" y="258.9" font-size="12.5" font-family="'Liberation Sans', sans-serif" fill="#262626">10<tspan font-size="9.5" dy="-6.5">4</tspan></text>
<text x="569.10" y="258.9" font-size="12.5" font-family="'Liberation Sans', sans-serif" fill="#262626">10<tspan font-size="9.5" dy="-6.5">3</tspan></text>
<text x="680.10" y="258.9" font-size="12.5" font-family="'Liberation Sans', sans-serif" fill="#262626">10<tspan font-size="9.5" dy="-6.5">4</tspan></text>
<text x="57.00" y="23.6" font-size="15.2" font-family="'Liberation Serif', serif" fill="#000" stroke="#000" stroke-width="0.25" textLength="62.40" lengthAdjust="spacingAndGlyphs">UGC05986</text>
<text x="293.10" y="23.6" font-size="15.2" font-family="'Liberation Serif', serif" fill="#000" stroke="#000" stroke-width="0.25" textLength="49.30" lengthAdjust="spacingAndGlyphs">DDO161</text>
<text x="528.40" y="23.6" font-size="15.2" font-family="'Liberation Serif', serif" fill="#000" stroke="#000" stroke-width="0.25" textLength="55.90" lengthAdjust="spacingAndGlyphs">NGC6015</text>
<text x="146.72" y="273.7" font-size="15" font-family="'Liberation Serif', serif" fill="#000" textLength="32.4" lengthAdjust="spacingAndGlyphs"><tspan font-style="italic">r</tspan> [pc]</text>
<text x="382.62" y="273.7" font-size="15" font-family="'Liberation Serif', serif" fill="#000" textLength="32.4" lengthAdjust="spacingAndGlyphs"><tspan font-style="italic">r</tspan> [pc]</text>
<text x="618.33" y="273.7" font-size="15" font-family="'Liberation Serif', serif" fill="#000" textLength="32.4" lengthAdjust="spacingAndGlyphs"><tspan font-style="italic">r</tspan> [pc]</text>
<text transform="translate(10.8,118.8) rotate(-90)" x="-32.75" font-size="15.5" font-family="'Liberation Serif', serif" fill="#000" textLength="65.5" lengthAdjust="spacingAndGlyphs"><tspan font-style="italic">v</tspan>(<tspan font-style="italic">r</tspan>) [km/s]</text>
<path d="M569.5,184.4V195M565.8,184.4H573.2M565.8,195H573.2" stroke="#111" stroke-width="1" fill="none"/>
<circle cx="569.5" cy="189.7" r="1.3" fill="#000"/>
<path d="M550,203.7H588.5" stroke="#EDB120" stroke-width="1.2" stroke-dasharray="8.2 3 1.5 3" stroke-opacity="0.78" fill="none"/>
<path d="M550,217.5H588.5" stroke="#7E2F8E" stroke-width="1.2" stroke-dasharray="8 7.5" stroke-opacity="0.78" fill="none"/>
<path d="M638,189.5H675" stroke="#77AC30" stroke-width="1.1" stroke-dasharray="1.1 2.9" stroke-opacity="0.8" fill="none"/>
<path d="M638,203.2H677" stroke="#595959" stroke-width="1" fill="none"/>
<text x="592.30" y="192.80" font-size="11.4" font-family="'Liberation Serif', serif" fill="#000" textLength="21.80" lengthAdjust="spacingAndGlyphs">total</text>
<text x="592.30" y="206.40" font-size="11.4" font-family="'Liberation Serif', serif" fill="#000" textLength="37.40" lengthAdjust="spacingAndGlyphs">baryons</text>
<text x="592.30" y="220.00" font-size="11.4" font-family="'Liberation Serif', serif" fill="#000" textLength="18.70" lengthAdjust="spacingAndGlyphs">disk</text>
<text x="680.20" y="192.80" font-size="11.4" font-family="'Liberation Serif', serif" fill="#000" textLength="15.10" lengthAdjust="spacingAndGlyphs">gas</text>
<text x="680.20" y="206.40" font-size="11.4" font-family="'Liberation Serif', serif" fill="#000" textLength="59.40" lengthAdjust="spacingAndGlyphs">inferred DM</text>
</svg></body></html>
